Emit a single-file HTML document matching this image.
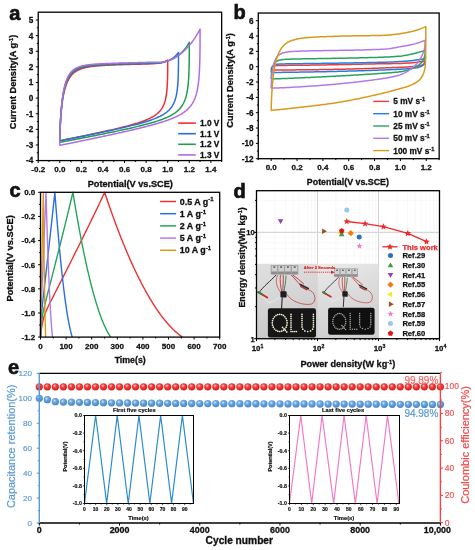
<!DOCTYPE html>
<html><head><meta charset="utf-8"><title>Figure</title>
<style>html,body{margin:0;padding:0;background:#fff;width:475px;height:550px;overflow:hidden}svg{display:block;font-family:"Liberation Sans",sans-serif;will-change:transform}</style>
</head><body>
<svg width="475" height="550" viewBox="0 0 475 550" font-family="Liberation Sans, sans-serif" font-weight="bold">
<rect width="475" height="550" fill="#fff"/>
<path d="M59.8 141.21 L59.8 140.86 L59.81 140.21 L59.82 139.39 L59.83 138.43 L59.85 137.35 L59.88 136.18 L59.91 134.93 L59.95 133.62 L59.99 132.25 L60.04 130.83 L60.1 129.37 L60.16 127.87 L60.23 126.35 L60.31 124.82 L60.39 123.26 L60.48 121.7 L60.58 120.14 L60.68 118.57 L60.79 117 L60.91 115.45 L61.04 113.9 L61.17 112.37 L61.31 110.85 L61.46 109.35 L61.62 107.87 L61.78 106.41 L61.95 104.97 L62.13 103.56 L62.32 102.18 L62.51 100.83 L62.72 99.5 L62.93 98.21 L63.15 96.94 L63.37 95.71 L63.61 94.5 L63.85 93.33 L64.11 92.19 L64.37 91.09 L64.63 90.01 L64.91 88.97 L65.2 87.96 L65.49 86.99 L65.79 86.04 L66.1 85.13 L66.42 84.24 L66.75 83.39 L67.09 82.57 L67.43 81.78 L67.79 81.01 L68.15 80.28 L68.52 79.57 L68.9 78.89 L69.29 78.24 L69.69 77.61 L70.1 77.01 L70.51 76.43 L70.94 75.88 L71.37 75.35 L71.82 74.84 L72.27 74.35 L72.73 73.89 L73.2 73.44 L73.68 73.02 L74.17 72.61 L74.67 72.23 L75.18 71.86 L75.7 71.5 L76.22 71.16 L76.76 70.84 L77.31 70.54 L77.86 70.25 L78.42 69.97 L79 69.7 L79.58 69.45 L80.17 69.21 L80.78 68.98 L81.39 68.76 L82.01 68.56 L82.64 68.36 L83.28 68.17 L83.93 67.99 L84.59 67.83 L85.26 67.66 L85.94 67.51 L86.63 67.37 L87.33 67.23 L88.04 67.09 L88.76 66.97 L89.49 66.85 L90.23 66.74 L90.98 66.63 L91.74 66.52 L92.51 66.42 L93.28 66.33 L94.07 66.24 L94.87 66.15 L95.68 66.07 L96.5 65.99 L97.33 65.92 L98.17 65.85 L99.02 65.78 L99.88 65.71 L100.74 65.65 L101.62 65.59 L102.51 65.53 L103.41 65.47 L104.32 65.42 L105.25 65.36 L106.18 65.31 L107.12 65.26 L108.07 65.22 L109.03 65.17 L110 65.12 L110.99 65.08 L111.98 65.04 L112.98 64.99 L114 64.95 L115.02 64.91 L116.05 64.87 L117.1 64.83 L118.16 64.8 L119.22 64.76 L120.3 64.72 L121.39 64.68 L122.48 64.65 L123.59 64.61 L124.71 64.58 L125.84 64.54 L126.98 64.51 L128.13 64.47 L129.3 64.44 L130.47 64.4 L131.65 64.37 L132.84 64.34 L134.05 64.3 L135.26 64.27 L136.49 64.23 L137.73 64.2 L138.98 64.17 L140.23 64.13 L141.5 64.1 L142.78 64.06 L144.07 64.03 L145.38 63.99 L146.69 63.95 L148.01 63.92 L149.35 63.88 L150.69 63.84 L152.05 63.77 L153.42 63.68 L154.8 63.57 L156.19 63.46 L157.59 63.34 L159 63.17 L160.42 62.92 L161.85 62.59 L163.3 62.16 L164.75 61.61 L166.22 60.91 L167.7 60.04 L167.7 60.03 L167.7 63.33 L167.69 65.97 L167.68 68.33 L167.67 70.51 L167.65 72.53 L167.62 74.43 L167.59 76.22 L167.55 77.91 L167.51 79.52 L167.46 81.04 L167.4 82.5 L167.34 83.89 L167.27 85.22 L167.19 86.48 L167.11 87.7 L167.02 88.87 L166.92 89.99 L166.82 91.06 L166.71 92.09 L166.59 93.09 L166.46 94.05 L166.33 94.97 L166.19 95.86 L166.04 96.71 L165.88 97.54 L165.72 98.34 L165.55 99.11 L165.37 99.85 L165.18 100.57 L164.99 101.27 L164.78 101.95 L164.57 102.6 L164.35 103.23 L164.13 103.85 L163.89 104.44 L163.65 105.02 L163.39 105.58 L163.13 106.12 L162.87 106.65 L162.59 107.17 L162.3 107.67 L162.01 108.15 L161.71 108.63 L161.4 109.09 L161.08 109.54 L160.75 109.98 L160.41 110.4 L160.07 110.82 L159.71 111.23 L159.35 111.62 L158.98 112.01 L158.6 112.39 L158.21 112.77 L157.81 113.13 L157.4 113.49 L156.99 113.83 L156.56 114.18 L156.13 114.51 L155.68 114.84 L155.23 115.16 L154.77 115.48 L154.3 115.79 L153.82 116.1 L153.33 116.4 L152.83 116.7 L152.32 116.99 L151.8 117.28 L151.28 117.56 L150.74 117.84 L150.19 118.12 L149.64 118.39 L149.08 118.66 L148.5 118.93 L147.92 119.19 L147.33 119.46 L146.72 119.71 L146.11 119.97 L145.49 120.22 L144.86 120.47 L144.22 120.72 L143.57 120.97 L142.91 121.22 L142.24 121.46 L141.56 121.7 L140.87 121.94 L140.17 122.18 L139.46 122.42 L138.74 122.66 L138.01 122.89 L137.27 123.13 L136.52 123.36 L135.76 123.59 L134.99 123.83 L134.22 124.06 L133.43 124.29 L132.63 124.52 L131.82 124.75 L131 124.98 L130.17 125.21 L129.33 125.44 L128.48 125.67 L127.62 125.9 L126.76 126.14 L125.88 126.37 L124.99 126.6 L124.09 126.83 L123.18 127.06 L122.25 127.29 L121.32 127.52 L120.38 127.75 L119.43 127.99 L118.47 128.22 L117.5 128.45 L116.51 128.69 L115.52 128.92 L114.52 129.16 L113.5 129.4 L112.48 129.64 L111.45 129.87 L110.4 130.11 L109.34 130.35 L108.28 130.6 L107.2 130.84 L106.11 131.08 L105.02 131.33 L103.91 131.57 L102.79 131.82 L101.66 132.07 L100.52 132.32 L99.37 132.57 L98.2 132.82 L97.03 133.07 L95.85 133.32 L94.66 133.58 L93.45 133.84 L92.24 134.1 L91.01 134.35 L89.77 134.62 L88.52 134.88 L87.27 135.14 L86 135.41 L84.72 135.67 L83.43 135.94 L82.12 136.21 L80.81 136.48 L79.49 136.76 L78.15 137.03 L76.81 137.31 L75.45 137.59 L74.08 137.87 L72.7 138.15 L71.31 138.43 L69.91 138.72 L68.5 139 L67.08 139.29 L65.65 139.58 L64.2 139.87 L62.75 140.17 L61.28 140.46 L59.8 140.76 L59.8 141.21" stroke="#ee2f2f" stroke-width="1.5" fill="none" stroke-linejoin="round" />
<path d="M59.8 141.21 L59.8 140.81 L59.81 140.07 L59.82 139.14 L59.84 138.05 L59.86 136.83 L59.89 135.51 L59.92 134.11 L59.96 132.63 L60.01 131.09 L60.07 129.5 L60.13 127.87 L60.2 126.21 L60.27 124.53 L60.36 122.83 L60.45 121.12 L60.55 119.41 L60.66 117.7 L60.77 115.99 L60.89 114.3 L61.02 112.62 L61.16 110.95 L61.31 109.31 L61.46 107.69 L61.63 106.09 L61.8 104.53 L61.98 102.99 L62.17 101.49 L62.37 100.02 L62.57 98.59 L62.79 97.19 L63.01 95.83 L63.24 94.5 L63.48 93.21 L63.73 91.96 L63.99 90.75 L64.26 89.58 L64.54 88.45 L64.82 87.35 L65.12 86.29 L65.42 85.27 L65.74 84.29 L66.06 83.34 L66.39 82.43 L66.73 81.56 L67.08 80.72 L67.45 79.91 L67.82 79.14 L68.2 78.4 L68.59 77.69 L68.99 77.01 L69.39 76.36 L69.81 75.74 L70.24 75.15 L70.68 74.58 L71.13 74.05 L71.59 73.53 L72.05 73.04 L72.53 72.58 L73.02 72.13 L73.52 71.71 L74.03 71.31 L74.54 70.93 L75.07 70.57 L75.61 70.23 L76.16 69.9 L76.72 69.59 L77.29 69.3 L77.87 69.02 L78.46 68.76 L79.06 68.51 L79.67 68.27 L80.29 68.05 L80.92 67.84 L81.56 67.64 L82.21 67.45 L82.87 67.27 L83.55 67.1 L84.23 66.94 L84.93 66.78 L85.63 66.64 L86.35 66.5 L87.07 66.37 L87.81 66.25 L88.56 66.14 L89.32 66.02 L90.09 65.92 L90.87 65.82 L91.66 65.73 L92.46 65.64 L93.27 65.55 L94.1 65.47 L94.93 65.39 L95.78 65.32 L96.63 65.25 L97.5 65.18 L98.38 65.12 L99.27 65.06 L100.17 65 L101.08 64.94 L102 64.88 L102.94 64.83 L103.88 64.78 L104.84 64.73 L105.81 64.68 L106.79 64.64 L107.78 64.59 L108.78 64.55 L109.79 64.51 L110.81 64.47 L111.85 64.43 L112.9 64.39 L113.95 64.35 L115.02 64.31 L116.1 64.27 L117.2 64.23 L118.3 64.2 L119.42 64.16 L120.54 64.13 L121.68 64.09 L122.83 64.06 L123.99 64.02 L125.16 63.99 L126.35 63.95 L127.55 63.92 L128.75 63.88 L129.97 63.85 L131.2 63.82 L132.45 63.78 L133.7 63.75 L134.97 63.71 L136.24 63.68 L137.53 63.65 L138.84 63.61 L140.15 63.58 L141.47 63.54 L142.81 63.51 L144.16 63.47 L145.52 63.44 L146.89 63.4 L148.28 63.36 L149.67 63.33 L151.08 63.29 L152.5 63.24 L153.93 63.19 L155.38 63.13 L156.83 63.07 L158.3 62.99 L159.78 62.86 L161.28 62.66 L162.78 62.38 L164.3 62.03 L165.82 61.58 L167.37 61.03 L168.92 60.38 L170.48 59.59 L172.06 58.65 L173.65 57.52 L175.25 56.18 L176.86 54.54 L178.49 52.49 L178.49 52.49 L178.49 56.25 L178.48 59.24 L178.47 61.92 L178.45 64.38 L178.43 66.66 L178.4 68.8 L178.37 70.82 L178.33 72.72 L178.28 74.52 L178.22 76.23 L178.16 77.86 L178.09 79.41 L178.02 80.89 L177.93 82.31 L177.84 83.66 L177.74 84.96 L177.63 86.2 L177.52 87.39 L177.4 88.53 L177.27 89.63 L177.13 90.69 L176.98 91.7 L176.83 92.68 L176.66 93.62 L176.49 94.53 L176.31 95.4 L176.12 96.25 L175.92 97.06 L175.72 97.85 L175.5 98.61 L175.28 99.34 L175.05 100.05 L174.81 100.74 L174.56 101.41 L174.3 102.05 L174.03 102.68 L173.75 103.29 L173.47 103.87 L173.17 104.44 L172.87 105 L172.55 105.54 L172.23 106.06 L171.9 106.57 L171.56 107.06 L171.21 107.55 L170.84 108.02 L170.47 108.47 L170.09 108.92 L169.7 109.35 L169.3 109.78 L168.9 110.19 L168.48 110.6 L168.05 110.99 L167.61 111.38 L167.16 111.76 L166.7 112.13 L166.24 112.49 L165.76 112.85 L165.27 113.2 L164.77 113.54 L164.26 113.88 L163.75 114.21 L163.22 114.53 L162.68 114.85 L162.13 115.17 L161.57 115.48 L161 115.78 L160.42 116.08 L159.83 116.38 L159.23 116.67 L158.62 116.96 L158 117.24 L157.37 117.52 L156.73 117.8 L156.08 118.08 L155.42 118.35 L154.74 118.62 L154.06 118.89 L153.36 119.15 L152.66 119.41 L151.94 119.68 L151.22 119.93 L150.48 120.19 L149.73 120.45 L148.97 120.7 L148.2 120.95 L147.42 121.21 L146.63 121.46 L145.83 121.71 L145.02 121.95 L144.19 122.2 L143.36 122.45 L142.51 122.69 L141.66 122.94 L140.79 123.18 L139.91 123.43 L139.02 123.67 L138.12 123.92 L137.21 124.16 L136.29 124.41 L135.35 124.65 L134.41 124.89 L133.45 125.14 L132.48 125.38 L131.5 125.63 L130.51 125.87 L129.51 126.12 L128.5 126.37 L127.48 126.61 L126.44 126.86 L125.39 127.11 L124.34 127.36 L123.27 127.61 L122.19 127.86 L121.09 128.11 L119.99 128.36 L118.87 128.61 L117.75 128.86 L116.61 129.12 L115.46 129.37 L114.3 129.63 L113.13 129.89 L111.94 130.15 L110.74 130.41 L109.54 130.67 L108.32 130.93 L107.09 131.2 L105.84 131.46 L104.59 131.73 L103.32 132 L102.05 132.27 L100.76 132.54 L99.45 132.81 L98.14 133.08 L96.82 133.36 L95.48 133.64 L94.13 133.91 L92.77 134.19 L91.4 134.48 L90.01 134.76 L88.62 135.04 L87.21 135.33 L85.79 135.62 L84.36 135.91 L82.91 136.2 L81.46 136.49 L79.99 136.79 L78.51 137.09 L77.01 137.39 L75.51 137.69 L73.99 137.99 L72.47 138.29 L70.92 138.6 L69.37 138.91 L67.81 139.22 L66.23 139.53 L64.64 139.85 L63.04 140.16 L61.43 140.48 L59.8 140.8 L59.8 141.21" stroke="#2a6ee0" stroke-width="1.5" fill="none" stroke-linejoin="round" />
<path d="M59.8 142.77 L59.8 142.31 L59.81 141.48 L59.82 140.43 L59.84 139.19 L59.86 137.82 L59.89 136.33 L59.93 134.75 L59.98 133.09 L60.03 131.37 L60.09 129.59 L60.16 127.78 L60.23 125.94 L60.32 124.07 L60.41 122.2 L60.51 120.32 L60.62 118.44 L60.73 116.57 L60.86 114.71 L60.99 112.87 L61.13 111.05 L61.29 109.25 L61.45 107.49 L61.62 105.76 L61.79 104.06 L61.98 102.4 L62.18 100.78 L62.38 99.19 L62.6 97.66 L62.82 96.16 L63.06 94.71 L63.3 93.3 L63.55 91.94 L63.82 90.62 L64.09 89.34 L64.37 88.12 L64.66 86.93 L64.97 85.79 L65.28 84.7 L65.6 83.65 L65.93 82.64 L66.28 81.67 L66.63 80.74 L66.99 79.86 L67.36 79.01 L67.75 78.2 L68.14 77.43 L68.54 76.69 L68.96 75.99 L69.38 75.32 L69.82 74.69 L70.27 74.08 L70.72 73.51 L71.19 72.96 L71.67 72.44 L72.16 71.95 L72.66 71.49 L73.17 71.05 L73.69 70.63 L74.22 70.24 L74.76 69.86 L75.32 69.51 L75.88 69.18 L76.46 68.86 L77.05 68.56 L77.65 68.28 L78.26 68.02 L78.88 67.77 L79.51 67.54 L80.15 67.31 L80.81 67.1 L81.47 66.91 L82.15 66.72 L82.84 66.55 L83.54 66.38 L84.25 66.23 L84.97 66.08 L85.71 65.94 L86.45 65.81 L87.21 65.69 L87.98 65.57 L88.76 65.46 L89.55 65.36 L90.36 65.26 L91.17 65.17 L92 65.08 L92.84 65 L93.69 64.92 L94.55 64.84 L95.43 64.77 L96.32 64.7 L97.21 64.64 L98.12 64.58 L99.05 64.52 L99.98 64.46 L100.93 64.41 L101.89 64.35 L102.86 64.3 L103.84 64.25 L104.83 64.21 L105.84 64.16 L106.86 64.12 L107.89 64.07 L108.93 64.03 L109.99 63.99 L111.06 63.95 L112.14 63.91 L113.23 63.87 L114.33 63.83 L115.45 63.8 L116.58 63.76 L117.72 63.72 L118.88 63.69 L120.04 63.65 L121.22 63.62 L122.41 63.58 L123.62 63.55 L124.84 63.51 L126.06 63.48 L127.31 63.44 L128.56 63.41 L129.83 63.37 L131.11 63.34 L132.4 63.3 L133.7 63.27 L135.02 63.24 L136.35 63.2 L137.69 63.17 L139.05 63.13 L140.42 63.1 L141.8 63.06 L143.19 63.02 L144.6 62.99 L146.02 62.95 L147.45 62.92 L148.9 62.88 L150.36 62.84 L151.83 62.81 L153.31 62.79 L154.81 62.77 L156.32 62.74 L157.84 62.71 L159.38 62.63 L160.93 62.49 L162.49 62.27 L164.07 61.98 L165.66 61.61 L167.26 61.15 L168.87 60.59 L170.5 59.94 L172.14 59.19 L173.8 58.32 L175.46 57.32 L177.14 56.19 L178.84 54.92 L180.54 53.48 L182.27 51.85 L184 49.99 L185.75 47.85 L187.51 45.32 L189.28 42.29 L189.28 42.28 L189.28 46.78 L189.27 50.36 L189.26 53.56 L189.24 56.49 L189.22 59.21 L189.19 61.75 L189.15 64.14 L189.1 66.4 L189.05 68.53 L188.99 70.55 L188.92 72.47 L188.85 74.29 L188.76 76.03 L188.67 77.69 L188.57 79.28 L188.46 80.79 L188.35 82.24 L188.22 83.63 L188.09 84.96 L187.95 86.24 L187.79 87.47 L187.63 88.65 L187.46 89.78 L187.29 90.87 L187.1 91.92 L186.9 92.92 L186.7 93.9 L186.48 94.83 L186.26 95.74 L186.02 96.61 L185.78 97.45 L185.53 98.26 L185.26 99.05 L184.99 99.81 L184.71 100.54 L184.42 101.25 L184.11 101.94 L183.8 102.6 L183.48 103.25 L183.15 103.87 L182.8 104.48 L182.45 105.07 L182.09 105.64 L181.72 106.2 L181.33 106.74 L180.94 107.26 L180.54 107.78 L180.12 108.27 L179.7 108.76 L179.26 109.23 L178.81 109.69 L178.36 110.14 L177.89 110.58 L177.41 111.01 L176.92 111.43 L176.42 111.83 L175.91 112.23 L175.39 112.63 L174.86 113.01 L174.32 113.39 L173.76 113.75 L173.2 114.12 L172.62 114.47 L172.03 114.82 L171.43 115.16 L170.82 115.5 L170.2 115.83 L169.57 116.16 L168.93 116.48 L168.27 116.79 L167.61 117.11 L166.93 117.41 L166.24 117.72 L165.54 118.02 L164.83 118.31 L164.11 118.61 L163.37 118.9 L162.63 119.19 L161.87 119.47 L161.1 119.75 L160.32 120.03 L159.53 120.31 L158.72 120.58 L157.91 120.86 L157.08 121.13 L156.24 121.4 L155.39 121.67 L154.53 121.93 L153.65 122.2 L152.76 122.46 L151.87 122.73 L150.96 122.99 L150.03 123.25 L149.1 123.51 L148.15 123.77 L147.19 124.03 L146.22 124.29 L145.24 124.55 L144.25 124.81 L143.24 125.07 L142.22 125.33 L141.19 125.59 L140.15 125.84 L139.09 126.1 L138.02 126.36 L136.94 126.62 L135.85 126.88 L134.75 127.14 L133.63 127.4 L132.5 127.66 L131.36 127.93 L130.2 128.19 L129.04 128.45 L127.86 128.72 L126.67 128.98 L125.46 129.25 L124.24 129.51 L123.02 129.78 L121.77 130.05 L120.52 130.32 L119.25 130.59 L117.97 130.86 L116.68 131.14 L115.38 131.41 L114.06 131.69 L112.73 131.96 L111.39 132.24 L110.03 132.52 L108.66 132.8 L107.28 133.09 L105.89 133.37 L104.48 133.66 L103.06 133.94 L101.63 134.23 L100.18 134.52 L98.72 134.82 L97.25 135.11 L95.77 135.4 L94.27 135.7 L92.76 136 L91.24 136.3 L89.7 136.6 L88.15 136.91 L86.59 137.21 L85.01 137.52 L83.42 137.83 L81.82 138.14 L80.21 138.46 L78.58 138.77 L76.94 139.09 L75.28 139.41 L73.62 139.73 L71.94 140.05 L70.24 140.38 L68.54 140.71 L66.81 141.04 L65.08 141.37 L63.33 141.7 L61.57 142.04 L59.8 142.38 L59.8 142.77" stroke="#1f9e4e" stroke-width="1.5" fill="none" stroke-linejoin="round" />
<path d="M59.8 145.74 L59.8 145.21 L59.81 144.26 L59.82 143.04 L59.84 141.62 L59.87 140.05 L59.9 138.34 L59.94 136.54 L59.99 134.65 L60.05 132.69 L60.11 130.68 L60.19 128.63 L60.27 126.56 L60.36 124.47 L60.46 122.37 L60.57 120.27 L60.69 118.18 L60.81 116.11 L60.95 114.06 L61.09 112.04 L61.25 110.04 L61.41 108.09 L61.58 106.17 L61.77 104.3 L61.96 102.47 L62.16 100.69 L62.38 98.96 L62.6 97.28 L62.83 95.66 L63.07 94.08 L63.33 92.56 L63.59 91.09 L63.87 89.68 L64.15 88.32 L64.45 87.02 L64.75 85.76 L65.07 84.56 L65.4 83.41 L65.74 82.31 L66.08 81.26 L66.44 80.26 L66.81 79.3 L67.2 78.39 L67.59 77.53 L67.99 76.7 L68.41 75.92 L68.84 75.18 L69.27 74.48 L69.72 73.81 L70.18 73.18 L70.66 72.58 L71.14 72.02 L71.63 71.49 L72.14 70.99 L72.66 70.51 L73.19 70.07 L73.73 69.65 L74.28 69.25 L74.85 68.88 L75.42 68.53 L76.01 68.2 L76.61 67.89 L77.22 67.6 L77.85 67.33 L78.49 67.07 L79.13 66.83 L79.79 66.61 L80.47 66.39 L81.15 66.2 L81.85 66.01 L82.56 65.84 L83.28 65.67 L84.01 65.52 L84.76 65.37 L85.52 65.24 L86.29 65.11 L87.07 64.99 L87.87 64.88 L88.67 64.78 L89.49 64.68 L90.33 64.58 L91.17 64.49 L92.03 64.41 L92.9 64.33 L93.79 64.26 L94.68 64.19 L95.59 64.12 L96.51 64.06 L97.45 63.99 L98.4 63.94 L99.36 63.88 L100.33 63.83 L101.32 63.78 L102.32 63.73 L103.33 63.68 L104.35 63.63 L105.39 63.59 L106.44 63.54 L107.51 63.5 L108.59 63.46 L109.68 63.42 L110.78 63.38 L111.9 63.34 L113.03 63.31 L114.17 63.27 L115.33 63.23 L116.5 63.2 L117.68 63.16 L118.88 63.12 L120.09 63.09 L121.31 63.05 L122.55 63.02 L123.8 62.98 L125.06 62.95 L126.34 62.91 L127.63 62.88 L128.94 62.84 L130.25 62.81 L131.59 62.77 L132.93 62.74 L134.29 62.7 L135.66 62.67 L137.05 62.63 L138.45 62.59 L139.86 62.56 L141.29 62.52 L142.73 62.49 L144.19 62.45 L145.65 62.41 L147.14 62.37 L148.63 62.34 L150.14 62.3 L151.67 62.27 L153.21 62.28 L154.76 62.3 L156.32 62.32 L157.9 62.33 L159.5 62.28 L161.11 62.17 L162.73 61.98 L164.36 61.71 L166.01 61.35 L167.68 60.9 L169.36 60.35 L171.05 59.7 L172.76 58.94 L174.48 58.02 L176.21 56.98 L177.96 55.82 L179.73 54.53 L181.5 53.11 L183.3 51.56 L185.1 49.86 L186.92 48.01 L188.76 46 L190.61 43.81 L192.47 41.43 L194.35 38.82 L196.24 35.95 L198.15 32.74 L200.07 29.1 L200.07 29.1 L200.07 34.49 L200.06 38.77 L200.05 42.58 L200.03 46.08 L200 49.31 L199.97 52.33 L199.93 55.17 L199.88 57.84 L199.82 60.36 L199.76 62.74 L199.68 65.01 L199.6 67.16 L199.51 69.21 L199.41 71.16 L199.3 73.02 L199.18 74.8 L199.06 76.5 L198.92 78.12 L198.78 79.68 L198.62 81.17 L198.46 82.6 L198.29 83.97 L198.1 85.29 L197.91 86.55 L197.71 87.77 L197.49 88.93 L197.27 90.06 L197.04 91.14 L196.8 92.19 L196.54 93.19 L196.28 94.16 L196 95.1 L195.72 96 L195.42 96.87 L195.12 97.71 L194.8 98.53 L194.47 99.31 L194.13 100.08 L193.79 100.81 L193.43 101.53 L193.06 102.22 L192.67 102.89 L192.28 103.55 L191.88 104.18 L191.46 104.79 L191.03 105.39 L190.6 105.97 L190.15 106.54 L189.69 107.09 L189.21 107.62 L188.73 108.14 L188.24 108.65 L187.73 109.15 L187.21 109.63 L186.68 110.1 L186.14 110.57 L185.59 111.02 L185.02 111.46 L184.45 111.89 L183.86 112.32 L183.26 112.73 L182.65 113.14 L182.02 113.54 L181.38 113.93 L180.74 114.32 L180.08 114.7 L179.4 115.07 L178.72 115.44 L178.02 115.8 L177.31 116.15 L176.59 116.5 L175.86 116.85 L175.11 117.19 L174.35 117.53 L173.58 117.87 L172.8 118.2 L172 118.52 L171.2 118.85 L170.38 119.17 L169.54 119.48 L168.7 119.8 L167.84 120.11 L166.97 120.42 L166.08 120.73 L165.19 121.04 L164.28 121.34 L163.36 121.64 L162.42 121.94 L161.47 122.24 L160.51 122.54 L159.54 122.84 L158.55 123.14 L157.55 123.43 L156.54 123.73 L155.52 124.02 L154.48 124.32 L153.43 124.61 L152.36 124.91 L151.28 125.2 L150.19 125.49 L149.09 125.79 L147.97 126.08 L146.84 126.37 L145.7 126.67 L144.54 126.96 L143.37 127.26 L142.19 127.55 L140.99 127.85 L139.78 128.15 L138.56 128.45 L137.32 128.74 L136.07 129.04 L134.81 129.34 L133.53 129.65 L132.24 129.95 L130.93 130.25 L129.62 130.56 L128.28 130.86 L126.94 131.17 L125.58 131.48 L124.21 131.79 L122.82 132.1 L121.42 132.41 L120.01 132.73 L118.58 133.04 L117.14 133.36 L115.68 133.68 L114.22 134 L112.73 134.33 L111.24 134.65 L109.73 134.98 L108.2 135.3 L106.66 135.63 L105.11 135.97 L103.55 136.3 L101.97 136.64 L100.37 136.97 L98.76 137.31 L97.14 137.66 L95.51 138 L93.86 138.35 L92.19 138.69 L90.51 139.05 L88.82 139.4 L87.11 139.75 L85.39 140.11 L83.66 140.47 L81.91 140.83 L80.14 141.19 L78.37 141.56 L76.57 141.93 L74.77 142.3 L72.95 142.67 L71.11 143.05 L69.26 143.43 L67.4 143.81 L65.52 144.19 L63.63 144.57 L61.72 144.96 L59.8 145.35 L59.8 145.74" stroke="#b06be6" stroke-width="1.5" fill="none" stroke-linejoin="round" />
<rect x="38.22" y="12.19" width="183.43" height="148.39" fill="none" stroke="#000" stroke-width="1.3" />
<line x1="38.22" y1="160.58" x2="35.82" y2="160.58" stroke="#000" stroke-width="1" />
<line x1="38.22" y1="144.96" x2="35.82" y2="144.96" stroke="#000" stroke-width="1" />
<line x1="38.22" y1="129.34" x2="35.82" y2="129.34" stroke="#000" stroke-width="1" />
<line x1="38.22" y1="113.72" x2="35.82" y2="113.72" stroke="#000" stroke-width="1" />
<line x1="38.22" y1="98.1" x2="35.82" y2="98.1" stroke="#000" stroke-width="1" />
<line x1="38.22" y1="82.48" x2="35.82" y2="82.48" stroke="#000" stroke-width="1" />
<line x1="38.22" y1="66.86" x2="35.82" y2="66.86" stroke="#000" stroke-width="1" />
<line x1="38.22" y1="51.24" x2="35.82" y2="51.24" stroke="#000" stroke-width="1" />
<line x1="38.22" y1="35.62" x2="35.82" y2="35.62" stroke="#000" stroke-width="1" />
<line x1="38.22" y1="20" x2="35.82" y2="20" stroke="#000" stroke-width="1" />
<line x1="38.22" y1="152.77" x2="36.82" y2="152.77" stroke="#000" stroke-width="1" />
<line x1="38.22" y1="137.15" x2="36.82" y2="137.15" stroke="#000" stroke-width="1" />
<line x1="38.22" y1="121.53" x2="36.82" y2="121.53" stroke="#000" stroke-width="1" />
<line x1="38.22" y1="105.91" x2="36.82" y2="105.91" stroke="#000" stroke-width="1" />
<line x1="38.22" y1="90.29" x2="36.82" y2="90.29" stroke="#000" stroke-width="1" />
<line x1="38.22" y1="74.67" x2="36.82" y2="74.67" stroke="#000" stroke-width="1" />
<line x1="38.22" y1="59.05" x2="36.82" y2="59.05" stroke="#000" stroke-width="1" />
<line x1="38.22" y1="43.43" x2="36.82" y2="43.43" stroke="#000" stroke-width="1" />
<line x1="38.22" y1="27.81" x2="36.82" y2="27.81" stroke="#000" stroke-width="1" />
<line x1="38.22" y1="160.58" x2="38.22" y2="162.98" stroke="#000" stroke-width="1" />
<line x1="59.8" y1="160.58" x2="59.8" y2="162.98" stroke="#000" stroke-width="1" />
<line x1="81.38" y1="160.58" x2="81.38" y2="162.98" stroke="#000" stroke-width="1" />
<line x1="102.96" y1="160.58" x2="102.96" y2="162.98" stroke="#000" stroke-width="1" />
<line x1="124.54" y1="160.58" x2="124.54" y2="162.98" stroke="#000" stroke-width="1" />
<line x1="146.12" y1="160.58" x2="146.12" y2="162.98" stroke="#000" stroke-width="1" />
<line x1="167.7" y1="160.58" x2="167.7" y2="162.98" stroke="#000" stroke-width="1" />
<line x1="189.28" y1="160.58" x2="189.28" y2="162.98" stroke="#000" stroke-width="1" />
<line x1="210.86" y1="160.58" x2="210.86" y2="162.98" stroke="#000" stroke-width="1" />
<line x1="49.01" y1="160.58" x2="49.01" y2="161.98" stroke="#000" stroke-width="1" />
<line x1="70.59" y1="160.58" x2="70.59" y2="161.98" stroke="#000" stroke-width="1" />
<line x1="92.17" y1="160.58" x2="92.17" y2="161.98" stroke="#000" stroke-width="1" />
<line x1="113.75" y1="160.58" x2="113.75" y2="161.98" stroke="#000" stroke-width="1" />
<line x1="135.33" y1="160.58" x2="135.33" y2="161.98" stroke="#000" stroke-width="1" />
<line x1="156.91" y1="160.58" x2="156.91" y2="161.98" stroke="#000" stroke-width="1" />
<line x1="178.49" y1="160.58" x2="178.49" y2="161.98" stroke="#000" stroke-width="1" />
<line x1="200.07" y1="160.58" x2="200.07" y2="161.98" stroke="#000" stroke-width="1" />
<line x1="221.65" y1="160.58" x2="221.65" y2="161.98" stroke="#000" stroke-width="1" />
<text x="33.2" y="163.48" font-size="8.2" text-anchor="end" fill="#111" stroke="#111" stroke-width="0.27" >-4</text>
<text x="33.2" y="147.86" font-size="8.2" text-anchor="end" fill="#111" stroke="#111" stroke-width="0.27" >-3</text>
<text x="33.2" y="132.24" font-size="8.2" text-anchor="end" fill="#111" stroke="#111" stroke-width="0.27" >-2</text>
<text x="33.2" y="116.62" font-size="8.2" text-anchor="end" fill="#111" stroke="#111" stroke-width="0.27" >-1</text>
<text x="33.2" y="101" font-size="8.2" text-anchor="end" fill="#111" stroke="#111" stroke-width="0.27" >0</text>
<text x="33.2" y="85.38" font-size="8.2" text-anchor="end" fill="#111" stroke="#111" stroke-width="0.27" >1</text>
<text x="33.2" y="69.76" font-size="8.2" text-anchor="end" fill="#111" stroke="#111" stroke-width="0.27" >2</text>
<text x="33.2" y="54.14" font-size="8.2" text-anchor="end" fill="#111" stroke="#111" stroke-width="0.27" >3</text>
<text x="33.2" y="38.52" font-size="8.2" text-anchor="end" fill="#111" stroke="#111" stroke-width="0.27" >4</text>
<text x="33.2" y="22.9" font-size="8.2" text-anchor="end" fill="#111" stroke="#111" stroke-width="0.27" >5</text>
<text x="38.22" y="172.4" font-size="8" text-anchor="middle" fill="#111" stroke="#111" stroke-width="0.27" >-0.2</text>
<text x="59.8" y="172.4" font-size="8" text-anchor="middle" fill="#111" stroke="#111" stroke-width="0.27" >0.0</text>
<text x="81.38" y="172.4" font-size="8" text-anchor="middle" fill="#111" stroke="#111" stroke-width="0.27" >0.2</text>
<text x="102.96" y="172.4" font-size="8" text-anchor="middle" fill="#111" stroke="#111" stroke-width="0.27" >0.4</text>
<text x="124.54" y="172.4" font-size="8" text-anchor="middle" fill="#111" stroke="#111" stroke-width="0.27" >0.6</text>
<text x="146.12" y="172.4" font-size="8" text-anchor="middle" fill="#111" stroke="#111" stroke-width="0.27" >0.8</text>
<text x="167.7" y="172.4" font-size="8" text-anchor="middle" fill="#111" stroke="#111" stroke-width="0.27" >1.0</text>
<text x="189.28" y="172.4" font-size="8" text-anchor="middle" fill="#111" stroke="#111" stroke-width="0.27" >1.2</text>
<text x="210.86" y="172.4" font-size="8" text-anchor="middle" fill="#111" stroke="#111" stroke-width="0.27" >1.4</text>
<text x="130.3" y="187.2" font-size="9.2" text-anchor="middle" fill="#111" stroke="#111" stroke-width="0.31" >Potential(V vs.SCE)</text>
<text x="16.4" y="82" font-size="9.2" text-anchor="middle" fill="#111" stroke="#111" stroke-width="0.31" transform="rotate(-90 16.4 82)" >Current Density(A g<tspan dy="-3" font-size="5.6">-1</tspan><tspan dy="3">)</tspan></text>
<text x="9.3" y="19.5" font-size="20" text-anchor="start" fill="#111" stroke="#111" stroke-width="0.67" >a</text>
<line x1="178.2" y1="123.1" x2="195.8" y2="123.1" stroke="#ee2f2f" stroke-width="1.6" />
<text x="200" y="126" font-size="8.3" text-anchor="start" fill="#111" stroke="#111" stroke-width="0.28" >1.0 V</text>
<line x1="178.2" y1="133.7" x2="195.8" y2="133.7" stroke="#2a6ee0" stroke-width="1.6" />
<text x="200" y="136.6" font-size="8.3" text-anchor="start" fill="#111" stroke="#111" stroke-width="0.28" >1.1 V</text>
<line x1="178.2" y1="144.3" x2="195.8" y2="144.3" stroke="#1f9e4e" stroke-width="1.6" />
<text x="200" y="147.2" font-size="8.3" text-anchor="start" fill="#111" stroke="#111" stroke-width="0.28" >1.2 V</text>
<line x1="178.2" y1="154.9" x2="195.8" y2="154.9" stroke="#b06be6" stroke-width="1.6" />
<text x="200" y="157.8" font-size="8.3" text-anchor="start" fill="#111" stroke="#111" stroke-width="0.28" >1.3 V</text>
<path d="M271.2 70 L271.2 69.91 L271.21 69.75 L271.23 69.54 L271.26 69.3 L271.3 69.04 L271.35 68.78 L271.41 68.51 L271.48 68.25 L271.57 67.99 L271.66 67.74 L271.77 67.51 L271.89 67.29 L272.02 67.08 L272.17 66.89 L272.33 66.72 L272.5 66.56 L272.68 66.42 L272.88 66.3 L273.09 66.18 L273.32 66.08 L273.56 65.99 L273.81 65.92 L274.08 65.85 L274.36 65.79 L274.66 65.74 L274.97 65.69 L275.3 65.65 L275.64 65.62 L276 65.59 L276.37 65.57 L276.76 65.55 L277.16 65.53 L277.58 65.51 L278.01 65.5 L278.46 65.49 L278.92 65.48 L279.4 65.47 L279.9 65.46 L280.41 65.45 L280.93 65.44 L281.48 65.44 L282.04 65.43 L282.61 65.42 L283.21 65.42 L283.81 65.41 L284.44 65.4 L285.08 65.4 L285.74 65.39 L286.41 65.39 L287.1 65.38 L287.81 65.37 L288.54 65.37 L289.28 65.36 L290.04 65.35 L290.81 65.34 L291.61 65.34 L292.42 65.33 L293.25 65.32 L294.09 65.31 L294.95 65.3 L295.83 65.29 L296.73 65.28 L297.64 65.27 L298.58 65.26 L299.53 65.25 L300.49 65.24 L301.48 65.23 L302.48 65.22 L303.5 65.21 L304.54 65.2 L305.6 65.18 L306.67 65.17 L307.77 65.16 L308.88 65.14 L310.01 65.13 L311.15 65.12 L312.32 65.1 L313.5 65.09 L314.71 65.07 L315.93 65.05 L317.17 65.04 L318.42 65.02 L319.7 65 L321 64.98 L322.31 64.96 L323.64 64.93 L324.99 64.91 L326.36 64.89 L327.75 64.86 L329.16 64.83 L330.58 64.81 L332.03 64.78 L333.49 64.75 L334.98 64.72 L336.48 64.69 L338 64.66 L339.54 64.62 L341.1 64.59 L342.68 64.56 L344.28 64.52 L345.89 64.49 L347.53 64.45 L349.19 64.41 L350.86 64.38 L352.56 64.34 L354.27 64.3 L356 64.26 L357.76 64.23 L359.53 64.19 L361.32 64.15 L363.14 64.11 L364.97 64.07 L366.82 64.03 L368.69 63.99 L370.58 63.96 L372.49 63.92 L374.43 63.88 L376.38 63.84 L378.35 63.81 L380.34 63.78 L382.35 63.74 L384.38 63.71 L386.43 63.68 L388.5 63.65 L390.59 63.63 L392.7 63.61 L394.84 63.59 L396.99 63.56 L399.16 63.52 L401.35 63.46 L403.57 63.37 L405.8 63.25 L408.05 63.09 L410.33 62.9 L412.62 62.68 L414.94 62.43 L417.27 62.16 L419.63 61.86 L422 61.54 L424.4 61.2 L424.4 61.2 L424.77 62.19 L424.28 63.31 L423.57 64.13 L422.77 64.61 L421.81 65.03 L420.72 65.39 L419.55 65.69 L418.34 65.94 L417.14 66.14 L415.99 66.29 L414.89 66.41 L413.78 66.52 L412.67 66.61 L411.56 66.7 L410.44 66.78 L409.31 66.86 L408.19 66.92 L407.06 66.99 L405.93 67.04 L404.81 67.1 L403.68 67.15 L402.55 67.19 L401.42 67.24 L400.3 67.29 L399.18 67.33 L398.06 67.38 L396.94 67.43 L395.82 67.47 L394.69 67.52 L393.57 67.56 L392.45 67.61 L391.33 67.65 L390.21 67.7 L389.09 67.74 L387.96 67.78 L386.84 67.83 L385.72 67.87 L384.6 67.91 L383.48 67.95 L382.35 68 L381.23 68.04 L380.11 68.08 L378.99 68.12 L377.86 68.16 L376.74 68.2 L375.62 68.24 L374.5 68.27 L373.38 68.31 L372.25 68.35 L371.13 68.39 L370.01 68.42 L368.89 68.46 L367.76 68.5 L366.64 68.53 L365.52 68.57 L364.4 68.6 L363.27 68.64 L362.15 68.67 L361.03 68.7 L359.91 68.74 L358.78 68.77 L357.66 68.8 L356.54 68.83 L355.41 68.87 L354.29 68.9 L353.17 68.93 L352.05 68.96 L350.92 68.99 L349.8 69.01 L348.68 69.04 L347.55 69.07 L346.43 69.1 L345.31 69.13 L344.19 69.15 L343.06 69.18 L341.94 69.2 L340.82 69.23 L339.7 69.25 L338.57 69.28 L337.45 69.3 L336.33 69.33 L335.2 69.35 L334.08 69.37 L332.96 69.39 L331.83 69.41 L330.71 69.43 L329.59 69.46 L328.47 69.47 L327.34 69.49 L326.22 69.51 L325.1 69.53 L323.97 69.55 L322.85 69.57 L321.73 69.58 L320.61 69.6 L319.48 69.61 L318.36 69.63 L317.24 69.64 L316.12 69.66 L314.99 69.67 L313.87 69.68 L312.75 69.7 L311.62 69.71 L310.5 69.72 L309.38 69.73 L308.26 69.75 L307.13 69.76 L306.01 69.77 L304.89 69.78 L303.76 69.79 L302.64 69.8 L301.52 69.81 L300.4 69.83 L299.27 69.84 L298.15 69.85 L297.03 69.86 L295.9 69.87 L294.78 69.88 L293.66 69.89 L292.54 69.9 L291.41 69.9 L290.29 69.91 L289.17 69.92 L288.04 69.93 L286.92 69.94 L285.8 69.94 L284.68 69.95 L283.55 69.96 L282.43 69.96 L281.31 69.97 L280.18 69.98 L279.06 69.98 L277.94 69.98 L276.82 69.99 L275.69 69.99 L274.57 69.99 L273.45 70 L272.32 70 L271.2 70" stroke="#ee3b3b" stroke-width="1.5" fill="none" stroke-linejoin="round" />
<path d="M271.2 72.5 L271.2 72.37 L271.21 72.13 L271.23 71.83 L271.26 71.48 L271.3 71.1 L271.35 70.69 L271.41 70.28 L271.48 69.86 L271.57 69.44 L271.66 69.02 L271.77 68.62 L271.89 68.24 L272.02 67.86 L272.17 67.51 L272.33 67.18 L272.5 66.87 L272.69 66.58 L272.89 66.31 L273.1 66.06 L273.33 65.83 L273.57 65.62 L273.82 65.43 L274.09 65.25 L274.38 65.09 L274.67 64.95 L274.99 64.83 L275.32 64.71 L275.66 64.61 L276.02 64.52 L276.39 64.44 L276.78 64.37 L277.18 64.3 L277.6 64.25 L278.03 64.2 L278.48 64.15 L278.95 64.11 L279.43 64.08 L279.93 64.05 L280.44 64.02 L280.97 64 L281.52 63.98 L282.08 63.96 L282.66 63.94 L283.25 63.92 L283.86 63.91 L284.49 63.89 L285.13 63.88 L285.8 63.87 L286.47 63.86 L287.17 63.84 L287.88 63.83 L288.61 63.82 L289.35 63.81 L290.11 63.8 L290.89 63.79 L291.69 63.78 L292.5 63.77 L293.33 63.76 L294.18 63.75 L295.05 63.73 L295.93 63.72 L296.83 63.71 L297.75 63.7 L298.68 63.69 L299.64 63.68 L300.61 63.66 L301.6 63.65 L302.6 63.64 L303.63 63.62 L304.67 63.61 L305.73 63.59 L306.81 63.58 L307.91 63.56 L309.03 63.55 L310.16 63.53 L311.31 63.52 L312.48 63.5 L313.67 63.48 L314.88 63.47 L316.1 63.45 L317.35 63.43 L318.61 63.41 L319.89 63.4 L321.19 63.38 L322.51 63.36 L323.85 63.34 L325.2 63.32 L326.58 63.3 L327.97 63.28 L329.38 63.26 L330.82 63.24 L332.27 63.22 L333.74 63.2 L335.23 63.18 L336.73 63.15 L338.26 63.13 L339.81 63.11 L341.37 63.08 L342.96 63.06 L344.56 63.03 L346.19 63.01 L347.83 62.98 L349.49 62.95 L351.17 62.93 L352.88 62.9 L354.6 62.87 L356.34 62.83 L358.1 62.8 L359.88 62.77 L361.68 62.73 L363.5 62.7 L365.34 62.66 L367.19 62.62 L369.07 62.58 L370.97 62.54 L372.89 62.5 L374.83 62.46 L376.79 62.41 L378.77 62.36 L380.77 62.31 L382.78 62.26 L384.82 62.2 L386.88 62.15 L388.96 62.08 L391.06 62.01 L393.18 61.93 L395.32 61.84 L397.48 61.74 L399.66 61.62 L401.86 61.48 L404.08 61.32 L406.33 61.13 L408.59 60.91 L410.87 60.67 L413.17 60.4 L415.5 60.11 L417.84 59.79 L420.21 59.45 L422.59 59.08 L425 58.7 L425 58.7 L425.14 59.92 L425.19 61.07 L425.2 62.15 L424.92 63.2 L424.2 64.23 L423.31 65.08 L422.46 65.69 L421.51 66.21 L420.45 66.68 L419.32 67.09 L418.15 67.43 L416.98 67.71 L415.85 67.91 L414.73 68.06 L413.61 68.2 L412.48 68.33 L411.34 68.45 L410.2 68.56 L409.05 68.65 L407.9 68.74 L406.74 68.82 L405.58 68.9 L404.43 68.97 L403.27 69.03 L402.12 69.09 L400.96 69.15 L399.82 69.21 L398.67 69.27 L397.52 69.32 L396.38 69.38 L395.23 69.43 L394.08 69.49 L392.94 69.54 L391.79 69.59 L390.64 69.64 L389.5 69.69 L388.35 69.74 L387.2 69.79 L386.06 69.84 L384.91 69.89 L383.76 69.94 L382.61 69.98 L381.47 70.03 L380.32 70.07 L379.17 70.12 L378.02 70.16 L376.87 70.21 L375.73 70.25 L374.58 70.29 L373.43 70.33 L372.28 70.37 L371.13 70.42 L369.99 70.46 L368.84 70.49 L367.69 70.53 L366.54 70.57 L365.39 70.61 L364.24 70.65 L363.1 70.68 L361.95 70.72 L360.8 70.75 L359.65 70.79 L358.5 70.82 L357.35 70.86 L356.21 70.89 L355.06 70.92 L353.91 70.96 L352.76 70.99 L351.61 71.02 L350.46 71.05 L349.31 71.08 L348.16 71.11 L347.01 71.14 L345.87 71.17 L344.72 71.2 L343.57 71.23 L342.42 71.26 L341.27 71.29 L340.12 71.32 L338.97 71.34 L337.82 71.37 L336.67 71.4 L335.53 71.42 L334.38 71.45 L333.23 71.48 L332.08 71.5 L330.93 71.53 L329.78 71.55 L328.63 71.58 L327.48 71.6 L326.34 71.63 L325.19 71.65 L324.04 71.67 L322.89 71.7 L321.74 71.72 L320.59 71.74 L319.44 71.77 L318.29 71.79 L317.15 71.81 L316 71.83 L314.85 71.86 L313.7 71.88 L312.55 71.9 L311.4 71.92 L310.25 71.94 L309.11 71.96 L307.96 71.98 L306.81 72 L305.66 72.03 L304.51 72.05 L303.36 72.07 L302.21 72.09 L301.07 72.1 L299.92 72.12 L298.77 72.14 L297.62 72.16 L296.47 72.18 L295.32 72.2 L294.17 72.21 L293.03 72.23 L291.88 72.25 L290.73 72.27 L289.58 72.28 L288.43 72.3 L287.28 72.31 L286.13 72.33 L284.98 72.35 L283.84 72.36 L282.69 72.37 L281.54 72.39 L280.39 72.4 L279.24 72.42 L278.09 72.43 L276.94 72.44 L275.8 72.45 L274.65 72.47 L273.5 72.48 L272.35 72.49 L271.2 72.5" stroke="#2a7de0" stroke-width="1.5" fill="none" stroke-linejoin="round" />
<path d="M271.2 79 L271.2 78.77 L271.21 78.34 L271.23 77.79 L271.26 77.14 L271.3 76.43 L271.35 75.68 L271.41 74.88 L271.48 74.07 L271.57 73.25 L271.66 72.42 L271.77 71.61 L271.89 70.8 L272.02 70.02 L272.17 69.26 L272.33 68.52 L272.5 67.82 L272.69 67.14 L272.89 66.51 L273.1 65.9 L273.33 65.33 L273.57 64.79 L273.82 64.29 L274.09 63.83 L274.38 63.39 L274.67 62.99 L274.99 62.62 L275.32 62.28 L275.66 61.96 L276.02 61.68 L276.39 61.41 L276.78 61.17 L277.18 60.96 L277.6 60.76 L278.03 60.58 L278.48 60.42 L278.95 60.27 L279.43 60.14 L279.93 60.02 L280.44 59.91 L280.97 59.82 L281.52 59.73 L282.08 59.65 L282.66 59.58 L283.25 59.52 L283.86 59.46 L284.49 59.41 L285.13 59.37 L285.8 59.32 L286.47 59.29 L287.17 59.25 L287.88 59.22 L288.61 59.19 L289.35 59.16 L290.11 59.14 L290.89 59.11 L291.69 59.09 L292.5 59.07 L293.33 59.05 L294.18 59.03 L295.05 59.01 L295.93 59 L296.83 58.98 L297.75 58.96 L298.68 58.94 L299.64 58.92 L300.61 58.91 L301.6 58.89 L302.6 58.87 L303.63 58.85 L304.67 58.84 L305.73 58.82 L306.81 58.8 L307.91 58.78 L309.03 58.76 L310.16 58.74 L311.31 58.72 L312.48 58.7 L313.67 58.68 L314.88 58.66 L316.1 58.64 L317.35 58.62 L318.61 58.6 L319.89 58.58 L321.19 58.56 L322.51 58.53 L323.85 58.51 L325.2 58.49 L326.58 58.47 L327.97 58.44 L329.38 58.42 L330.82 58.4 L332.27 58.37 L333.74 58.35 L335.23 58.33 L336.73 58.3 L338.26 58.27 L339.81 58.25 L341.37 58.22 L342.96 58.19 L344.56 58.16 L346.19 58.13 L347.83 58.1 L349.49 58.07 L351.17 58.03 L352.88 58 L354.6 57.96 L356.34 57.93 L358.1 57.89 L359.88 57.85 L361.68 57.8 L363.5 57.76 L365.34 57.71 L367.19 57.66 L369.07 57.61 L370.97 57.56 L372.89 57.5 L374.83 57.44 L376.79 57.38 L378.77 57.32 L380.77 57.25 L382.78 57.18 L384.82 57.11 L386.88 57.02 L388.96 56.92 L391.06 56.81 L393.18 56.67 L395.32 56.51 L397.48 56.33 L399.66 56.13 L401.86 55.89 L404.08 55.59 L406.33 55.23 L408.59 54.82 L410.87 54.34 L413.17 53.81 L415.5 53.22 L417.84 52.59 L420.21 51.9 L422.59 51.17 L425 50.4 L425 50.4 L425.18 51.58 L425.17 52.77 L425.05 53.97 L424.84 55.18 L424.57 56.35 L424.27 57.47 L423.91 58.54 L423.39 59.63 L422.76 60.72 L422.02 61.76 L421.21 62.74 L420.37 63.62 L419.52 64.38 L418.67 65.01 L417.77 65.6 L416.83 66.18 L415.83 66.74 L414.79 67.28 L413.71 67.79 L412.6 68.28 L411.45 68.75 L410.29 69.2 L409.1 69.61 L407.91 70 L406.7 70.36 L405.49 70.69 L404.28 70.99 L403.08 71.26 L401.88 71.5 L400.71 71.7 L399.55 71.86 L398.39 72.01 L397.22 72.14 L396.05 72.26 L394.86 72.37 L393.67 72.48 L392.48 72.57 L391.28 72.66 L390.09 72.75 L388.89 72.83 L387.69 72.91 L386.5 72.99 L385.31 73.08 L384.12 73.16 L382.94 73.25 L381.75 73.33 L380.56 73.42 L379.38 73.5 L378.19 73.58 L377 73.66 L375.81 73.75 L374.63 73.83 L373.44 73.91 L372.25 73.99 L371.06 74.06 L369.88 74.14 L368.69 74.22 L367.5 74.3 L366.31 74.37 L365.12 74.45 L363.94 74.52 L362.75 74.6 L361.56 74.67 L360.37 74.74 L359.18 74.81 L358 74.89 L356.81 74.96 L355.62 75.03 L354.43 75.1 L353.24 75.17 L352.05 75.24 L350.87 75.31 L349.68 75.38 L348.49 75.44 L347.3 75.51 L346.11 75.58 L344.92 75.64 L343.73 75.71 L342.55 75.77 L341.36 75.84 L340.17 75.9 L338.98 75.97 L337.79 76.03 L336.6 76.1 L335.41 76.16 L334.22 76.22 L333.04 76.28 L331.85 76.34 L330.66 76.41 L329.47 76.47 L328.28 76.53 L327.09 76.59 L325.9 76.65 L324.71 76.71 L323.52 76.77 L322.34 76.82 L321.15 76.88 L319.96 76.94 L318.77 77 L317.58 77.06 L316.39 77.11 L315.2 77.17 L314.01 77.23 L312.82 77.28 L311.64 77.34 L310.45 77.4 L309.26 77.45 L308.07 77.51 L306.88 77.56 L305.69 77.62 L304.5 77.67 L303.31 77.72 L302.12 77.78 L300.93 77.83 L299.75 77.88 L298.56 77.93 L297.37 77.98 L296.18 78.03 L294.99 78.08 L293.8 78.13 L292.61 78.18 L291.42 78.23 L290.23 78.28 L289.04 78.33 L287.85 78.38 L286.66 78.42 L285.47 78.47 L284.28 78.52 L283.1 78.56 L281.91 78.61 L280.72 78.65 L279.53 78.7 L278.34 78.74 L277.15 78.79 L275.96 78.83 L274.77 78.87 L273.58 78.92 L272.39 78.96 L271.2 79" stroke="#27a45c" stroke-width="1.5" fill="none" stroke-linejoin="round" />
<path d="M271.2 88.2 L271.2 87.86 L271.21 87.22 L271.23 86.39 L271.26 85.42 L271.3 84.34 L271.35 83.18 L271.41 81.95 L271.48 80.68 L271.57 79.38 L271.66 78.06 L271.77 76.74 L271.89 75.42 L272.02 74.11 L272.17 72.82 L272.33 71.56 L272.5 70.33 L272.69 69.14 L272.89 67.99 L273.1 66.88 L273.33 65.81 L273.57 64.8 L273.82 63.83 L274.09 62.91 L274.38 62.03 L274.67 61.21 L274.99 60.43 L275.32 59.7 L275.66 59.01 L276.02 58.37 L276.39 57.77 L276.78 57.22 L277.18 56.7 L277.6 56.22 L278.03 55.77 L278.48 55.36 L278.95 54.98 L279.43 54.63 L279.93 54.31 L280.44 54.01 L280.97 53.74 L281.52 53.49 L282.08 53.27 L282.66 53.06 L283.25 52.87 L283.86 52.69 L284.49 52.54 L285.13 52.39 L285.8 52.26 L286.47 52.14 L287.17 52.03 L287.88 51.93 L288.61 51.84 L289.35 51.76 L290.11 51.68 L290.89 51.61 L291.69 51.55 L292.5 51.49 L293.33 51.44 L294.18 51.39 L295.05 51.34 L295.93 51.3 L296.83 51.26 L297.75 51.22 L298.68 51.19 L299.64 51.15 L300.61 51.12 L301.6 51.09 L302.6 51.06 L303.63 51.03 L304.67 51.01 L305.73 50.98 L306.81 50.95 L307.91 50.92 L309.03 50.9 L310.16 50.87 L311.31 50.85 L312.48 50.82 L313.67 50.8 L314.88 50.77 L316.1 50.75 L317.35 50.72 L318.61 50.7 L319.89 50.68 L321.19 50.65 L322.51 50.63 L323.85 50.61 L325.2 50.59 L326.58 50.57 L327.97 50.54 L329.38 50.52 L330.82 50.5 L332.27 50.48 L333.74 50.46 L335.23 50.43 L336.73 50.41 L338.26 50.39 L339.81 50.36 L341.37 50.34 L342.96 50.31 L344.56 50.29 L346.19 50.26 L347.83 50.23 L349.49 50.2 L351.17 50.17 L352.88 50.14 L354.6 50.1 L356.34 50.06 L358.1 50.02 L359.88 49.98 L361.68 49.94 L363.5 49.89 L365.34 49.84 L367.19 49.78 L369.07 49.73 L370.97 49.67 L372.89 49.6 L374.83 49.53 L376.79 49.46 L378.77 49.38 L380.77 49.29 L382.78 49.2 L384.82 49.11 L386.88 48.97 L388.96 48.73 L391.06 48.42 L393.18 48.06 L395.32 47.67 L397.48 47.26 L399.66 46.87 L401.86 46.49 L404.08 46.1 L406.33 45.68 L408.59 45.24 L410.87 44.76 L413.17 44.23 L415.5 43.63 L417.84 42.94 L420.21 42.16 L422.59 41.31 L425 40.4 L425 40.4 L424.99 41.68 L424.97 42.95 L424.93 44.21 L424.88 45.46 L424.81 46.7 L424.66 47.94 L424.35 49.16 L423.95 50.37 L423.54 51.57 L423.14 52.77 L422.7 53.96 L422.22 55.14 L421.7 56.3 L421.15 57.41 L420.55 58.5 L419.9 59.58 L419.19 60.65 L418.44 61.7 L417.65 62.73 L416.83 63.71 L415.98 64.65 L415.11 65.52 L414.22 66.34 L413.3 67.14 L412.33 67.93 L411.33 68.71 L410.3 69.47 L409.23 70.21 L408.15 70.92 L407.04 71.6 L405.91 72.25 L404.77 72.86 L403.63 73.43 L402.47 73.95 L401.32 74.43 L400.17 74.84 L399.01 75.22 L397.83 75.57 L396.63 75.9 L395.41 76.21 L394.18 76.5 L392.93 76.77 L391.68 77.03 L390.43 77.27 L389.17 77.51 L387.91 77.73 L386.66 77.93 L385.41 78.14 L384.17 78.33 L382.93 78.52 L381.69 78.71 L380.45 78.9 L379.2 79.08 L377.96 79.26 L376.72 79.44 L375.47 79.62 L374.22 79.79 L372.98 79.97 L371.73 80.14 L370.48 80.3 L369.24 80.47 L367.99 80.63 L366.74 80.8 L365.49 80.96 L364.24 81.11 L362.98 81.27 L361.73 81.42 L360.48 81.57 L359.23 81.72 L357.98 81.87 L356.72 82.01 L355.47 82.16 L354.21 82.3 L352.96 82.44 L351.7 82.57 L350.45 82.71 L349.19 82.84 L347.94 82.97 L346.68 83.1 L345.43 83.23 L344.17 83.36 L342.91 83.48 L341.65 83.6 L340.4 83.72 L339.14 83.84 L337.88 83.96 L336.63 84.08 L335.37 84.19 L334.11 84.3 L332.85 84.41 L331.59 84.52 L330.34 84.63 L329.08 84.74 L327.82 84.84 L326.56 84.94 L325.3 85.05 L324.05 85.15 L322.79 85.24 L321.53 85.34 L320.27 85.44 L319.02 85.53 L317.76 85.63 L316.5 85.72 L315.25 85.81 L313.99 85.9 L312.73 85.98 L311.48 86.07 L310.22 86.16 L308.96 86.24 L307.71 86.32 L306.45 86.41 L305.19 86.49 L303.94 86.57 L302.68 86.65 L301.42 86.73 L300.16 86.8 L298.91 86.88 L297.65 86.95 L296.39 87.03 L295.13 87.1 L293.87 87.17 L292.61 87.24 L291.36 87.31 L290.1 87.38 L288.84 87.44 L287.58 87.51 L286.32 87.57 L285.06 87.63 L283.8 87.69 L282.54 87.75 L281.28 87.81 L280.02 87.86 L278.76 87.91 L277.5 87.97 L276.24 88.02 L274.98 88.06 L273.72 88.11 L272.46 88.16 L271.2 88.2" stroke="#b479e8" stroke-width="1.5" fill="none" stroke-linejoin="round" />
<path d="M271.2 110.4 L271.2 109.94 L271.21 109.07 L271.23 107.94 L271.26 106.61 L271.3 105.11 L271.35 103.48 L271.41 101.74 L271.48 99.92 L271.57 98.02 L271.67 96.07 L271.77 94.07 L271.89 92.05 L272.03 90.02 L272.18 87.97 L272.34 85.94 L272.51 83.91 L272.7 81.9 L272.9 79.92 L273.11 77.97 L273.34 76.06 L273.58 74.19 L273.84 72.36 L274.11 70.58 L274.39 68.86 L274.69 67.18 L275.01 65.56 L275.34 64 L275.68 62.5 L276.04 61.05 L276.42 59.66 L276.81 58.33 L277.21 57.06 L277.63 55.84 L278.07 54.68 L278.52 53.58 L278.99 52.53 L279.48 51.53 L279.98 50.59 L280.49 49.69 L281.02 48.84 L281.57 48.04 L282.14 47.29 L282.72 46.57 L283.32 45.9 L283.93 45.27 L284.56 44.68 L285.21 44.12 L285.87 43.6 L286.55 43.11 L287.25 42.65 L287.96 42.22 L288.7 41.82 L289.44 41.45 L290.21 41.1 L290.99 40.77 L291.79 40.47 L292.61 40.19 L293.45 39.92 L294.3 39.68 L295.17 39.45 L296.06 39.24 L296.96 39.04 L297.89 38.85 L298.83 38.68 L299.78 38.52 L300.76 38.37 L301.76 38.23 L302.77 38.1 L303.8 37.98 L304.85 37.87 L305.91 37.76 L307 37.66 L308.1 37.57 L309.22 37.48 L310.36 37.4 L311.52 37.32 L312.7 37.25 L313.89 37.18 L315.1 37.11 L316.34 37.05 L317.59 36.98 L318.86 36.92 L320.14 36.86 L321.45 36.8 L322.78 36.75 L324.12 36.69 L325.48 36.64 L326.87 36.59 L328.27 36.53 L329.69 36.48 L331.13 36.43 L332.58 36.38 L334.06 36.34 L335.56 36.29 L337.07 36.24 L338.61 36.19 L340.16 36.15 L341.74 36.11 L343.33 36.06 L344.94 36.02 L346.58 35.98 L348.23 35.94 L349.9 35.91 L351.59 35.88 L353.3 35.84 L355.03 35.82 L356.78 35.79 L358.55 35.77 L360.34 35.74 L362.15 35.72 L363.98 35.7 L365.83 35.68 L367.69 35.65 L369.58 35.63 L371.49 35.6 L373.42 35.57 L375.37 35.54 L377.34 35.5 L379.33 35.46 L381.34 35.41 L383.36 35.35 L385.41 35.29 L387.48 35.18 L389.57 35.01 L391.68 34.8 L393.81 34.55 L395.97 34.28 L398.14 33.99 L400.33 33.69 L402.54 33.35 L404.77 32.96 L407.03 32.53 L409.3 32.05 L411.6 31.53 L413.91 30.95 L416.25 30.29 L418.61 29.51 L420.98 28.62 L423.38 27.65 L425.8 26.6 L425.8 26.6 L425.8 28.09 L425.8 29.58 L425.8 31.07 L425.8 32.56 L425.8 34.04 L425.8 35.53 L425.8 37.02 L425.8 38.51 L425.8 40 L425.8 41.49 L425.8 42.98 L425.79 44.47 L425.78 45.95 L425.77 47.44 L425.76 48.93 L425.75 50.42 L425.73 51.91 L425.72 53.4 L425.7 54.89 L425.68 56.38 L425.64 57.87 L425.59 59.36 L425.53 60.85 L425.46 62.34 L425.38 63.82 L425.28 65.3 L425.11 66.79 L424.88 68.28 L424.57 69.75 L424.22 71.19 L423.82 72.58 L423.29 74 L422.64 75.4 L421.88 76.77 L421.05 78.04 L420.16 79.19 L419.23 80.18 L418.15 81.09 L416.95 81.96 L415.66 82.76 L414.3 83.52 L412.9 84.21 L411.5 84.86 L410.13 85.45 L408.77 85.99 L407.39 86.49 L405.99 86.95 L404.56 87.39 L403.13 87.81 L401.68 88.21 L400.23 88.59 L398.78 88.98 L397.33 89.36 L395.88 89.75 L394.45 90.16 L393.01 90.56 L391.58 90.97 L390.14 91.36 L388.71 91.75 L387.27 92.13 L385.83 92.5 L384.38 92.85 L382.93 93.2 L381.49 93.54 L380.04 93.88 L378.59 94.22 L377.14 94.56 L375.69 94.9 L374.24 95.23 L372.78 95.56 L371.33 95.89 L369.88 96.21 L368.42 96.54 L366.97 96.86 L365.51 97.18 L364.05 97.49 L362.59 97.8 L361.14 98.11 L359.68 98.41 L358.22 98.71 L356.76 99.01 L355.3 99.3 L353.83 99.59 L352.37 99.88 L350.91 100.16 L349.45 100.44 L347.98 100.71 L346.52 100.98 L345.05 101.24 L343.59 101.5 L342.12 101.76 L340.65 102.01 L339.19 102.25 L337.72 102.49 L336.25 102.73 L334.78 102.96 L333.31 103.18 L331.84 103.4 L330.37 103.61 L328.89 103.82 L327.42 104.02 L325.94 104.22 L324.47 104.42 L322.99 104.61 L321.51 104.79 L320.03 104.98 L318.55 105.16 L317.08 105.34 L315.6 105.52 L314.12 105.7 L312.64 105.88 L311.16 106.06 L309.69 106.24 L308.21 106.42 L306.73 106.59 L305.25 106.76 L303.77 106.94 L302.29 107.11 L300.81 107.28 L299.34 107.45 L297.86 107.62 L296.38 107.79 L294.9 107.95 L293.42 108.12 L291.94 108.28 L290.46 108.44 L288.98 108.6 L287.5 108.76 L286.02 108.92 L284.54 109.08 L283.06 109.23 L281.57 109.38 L280.09 109.53 L278.61 109.68 L277.13 109.83 L275.65 109.97 L274.17 110.12 L272.68 110.26 L271.2 110.4" stroke="#d89a1a" stroke-width="1.5" fill="none" stroke-linejoin="round" />
<rect x="258.28" y="13.03" width="180.88" height="145.67" fill="none" stroke="#000" stroke-width="1.3" />
<line x1="258.28" y1="158.7" x2="255.88" y2="158.7" stroke="#000" stroke-width="1" />
<line x1="258.28" y1="143.37" x2="255.88" y2="143.37" stroke="#000" stroke-width="1" />
<line x1="258.28" y1="128.04" x2="255.88" y2="128.04" stroke="#000" stroke-width="1" />
<line x1="258.28" y1="112.7" x2="255.88" y2="112.7" stroke="#000" stroke-width="1" />
<line x1="258.28" y1="97.37" x2="255.88" y2="97.37" stroke="#000" stroke-width="1" />
<line x1="258.28" y1="82.03" x2="255.88" y2="82.03" stroke="#000" stroke-width="1" />
<line x1="258.28" y1="66.7" x2="255.88" y2="66.7" stroke="#000" stroke-width="1" />
<line x1="258.28" y1="51.37" x2="255.88" y2="51.37" stroke="#000" stroke-width="1" />
<line x1="258.28" y1="36.03" x2="255.88" y2="36.03" stroke="#000" stroke-width="1" />
<line x1="258.28" y1="20.7" x2="255.88" y2="20.7" stroke="#000" stroke-width="1" />
<line x1="258.28" y1="151.04" x2="256.88" y2="151.04" stroke="#000" stroke-width="1" />
<line x1="258.28" y1="135.7" x2="256.88" y2="135.7" stroke="#000" stroke-width="1" />
<line x1="258.28" y1="120.37" x2="256.88" y2="120.37" stroke="#000" stroke-width="1" />
<line x1="258.28" y1="105.03" x2="256.88" y2="105.03" stroke="#000" stroke-width="1" />
<line x1="258.28" y1="89.7" x2="256.88" y2="89.7" stroke="#000" stroke-width="1" />
<line x1="258.28" y1="74.37" x2="256.88" y2="74.37" stroke="#000" stroke-width="1" />
<line x1="258.28" y1="59.03" x2="256.88" y2="59.03" stroke="#000" stroke-width="1" />
<line x1="258.28" y1="43.7" x2="256.88" y2="43.7" stroke="#000" stroke-width="1" />
<line x1="258.28" y1="28.37" x2="256.88" y2="28.37" stroke="#000" stroke-width="1" />
<line x1="271.2" y1="158.7" x2="271.2" y2="161.1" stroke="#000" stroke-width="1" />
<line x1="297.04" y1="158.7" x2="297.04" y2="161.1" stroke="#000" stroke-width="1" />
<line x1="322.88" y1="158.7" x2="322.88" y2="161.1" stroke="#000" stroke-width="1" />
<line x1="348.72" y1="158.7" x2="348.72" y2="161.1" stroke="#000" stroke-width="1" />
<line x1="374.56" y1="158.7" x2="374.56" y2="161.1" stroke="#000" stroke-width="1" />
<line x1="400.4" y1="158.7" x2="400.4" y2="161.1" stroke="#000" stroke-width="1" />
<line x1="426.24" y1="158.7" x2="426.24" y2="161.1" stroke="#000" stroke-width="1" />
<line x1="258.28" y1="158.7" x2="258.28" y2="160.1" stroke="#000" stroke-width="1" />
<line x1="284.12" y1="158.7" x2="284.12" y2="160.1" stroke="#000" stroke-width="1" />
<line x1="309.96" y1="158.7" x2="309.96" y2="160.1" stroke="#000" stroke-width="1" />
<line x1="335.8" y1="158.7" x2="335.8" y2="160.1" stroke="#000" stroke-width="1" />
<line x1="361.64" y1="158.7" x2="361.64" y2="160.1" stroke="#000" stroke-width="1" />
<line x1="387.48" y1="158.7" x2="387.48" y2="160.1" stroke="#000" stroke-width="1" />
<line x1="413.32" y1="158.7" x2="413.32" y2="160.1" stroke="#000" stroke-width="1" />
<line x1="439.16" y1="158.7" x2="439.16" y2="160.1" stroke="#000" stroke-width="1" />
<text x="253.6" y="161.6" font-size="8.2" text-anchor="end" fill="#111" stroke="#111" stroke-width="0.27" >-12</text>
<text x="253.6" y="146.27" font-size="8.2" text-anchor="end" fill="#111" stroke="#111" stroke-width="0.27" >-10</text>
<text x="253.6" y="130.94" font-size="8.2" text-anchor="end" fill="#111" stroke="#111" stroke-width="0.27" >-8</text>
<text x="253.6" y="115.6" font-size="8.2" text-anchor="end" fill="#111" stroke="#111" stroke-width="0.27" >-6</text>
<text x="253.6" y="100.27" font-size="8.2" text-anchor="end" fill="#111" stroke="#111" stroke-width="0.27" >-4</text>
<text x="253.6" y="84.93" font-size="8.2" text-anchor="end" fill="#111" stroke="#111" stroke-width="0.27" >-2</text>
<text x="253.6" y="69.6" font-size="8.2" text-anchor="end" fill="#111" stroke="#111" stroke-width="0.27" >0</text>
<text x="253.6" y="54.27" font-size="8.2" text-anchor="end" fill="#111" stroke="#111" stroke-width="0.27" >2</text>
<text x="253.6" y="38.93" font-size="8.2" text-anchor="end" fill="#111" stroke="#111" stroke-width="0.27" >4</text>
<text x="253.6" y="23.6" font-size="8.2" text-anchor="end" fill="#111" stroke="#111" stroke-width="0.27" >6</text>
<text x="271.2" y="170" font-size="8" text-anchor="middle" fill="#111" stroke="#111" stroke-width="0.27" >0.0</text>
<text x="297.04" y="170" font-size="8" text-anchor="middle" fill="#111" stroke="#111" stroke-width="0.27" >0.2</text>
<text x="322.88" y="170" font-size="8" text-anchor="middle" fill="#111" stroke="#111" stroke-width="0.27" >0.4</text>
<text x="348.72" y="170" font-size="8" text-anchor="middle" fill="#111" stroke="#111" stroke-width="0.27" >0.6</text>
<text x="374.56" y="170" font-size="8" text-anchor="middle" fill="#111" stroke="#111" stroke-width="0.27" >0.8</text>
<text x="400.4" y="170" font-size="8" text-anchor="middle" fill="#111" stroke="#111" stroke-width="0.27" >1.0</text>
<text x="426.24" y="170" font-size="8" text-anchor="middle" fill="#111" stroke="#111" stroke-width="0.27" >1.2</text>
<text x="347.9" y="184.6" font-size="8.85" text-anchor="middle" fill="#111" stroke="#111" stroke-width="0.29" >Potential(V vs.SCE)</text>
<text x="233.2" y="80.4" font-size="9.2" text-anchor="middle" fill="#111" stroke="#111" stroke-width="0.31" transform="rotate(-90 233.2 80.4)" >Current Density(A g<tspan dy="-3" font-size="5.6">-1</tspan><tspan dy="3">)</tspan></text>
<text x="233.6" y="19.4" font-size="20" text-anchor="start" fill="#111" stroke="#111" stroke-width="0.67" >b</text>
<line x1="373.2" y1="101.4" x2="389.1" y2="101.4" stroke="#ee3b3b" stroke-width="1.4" />
<text x="393.3" y="104.4" font-size="8.3" text-anchor="start" fill="#111" stroke="#111" stroke-width="0.28" >5 mV s<tspan dy="-3.1" font-size="5.6">-1</tspan></text>
<line x1="373.2" y1="113.7" x2="389.1" y2="113.7" stroke="#2a7de0" stroke-width="1.4" />
<text x="393.3" y="116.7" font-size="8.3" text-anchor="start" fill="#111" stroke="#111" stroke-width="0.28" >10 mV s<tspan dy="-3.1" font-size="5.6">-1</tspan></text>
<line x1="373.2" y1="126" x2="389.1" y2="126" stroke="#27a45c" stroke-width="1.4" />
<text x="393.3" y="129" font-size="8.3" text-anchor="start" fill="#111" stroke="#111" stroke-width="0.28" >25 mV s<tspan dy="-3.1" font-size="5.6">-1</tspan></text>
<line x1="373.2" y1="138.3" x2="389.1" y2="138.3" stroke="#b479e8" stroke-width="1.4" />
<text x="393.3" y="141.3" font-size="8.3" text-anchor="start" fill="#111" stroke="#111" stroke-width="0.28" >50 mV s<tspan dy="-3.1" font-size="5.6">-1</tspan></text>
<line x1="373.2" y1="150.6" x2="389.1" y2="150.6" stroke="#d89a1a" stroke-width="1.4" />
<text x="393.3" y="153.6" font-size="8.3" text-anchor="start" fill="#111" stroke="#111" stroke-width="0.28" >100 mV s<tspan dy="-3.1" font-size="5.6">-1</tspan></text>
<path d="M40.5 337.1 L40.64 335.69 L40.89 333.32 L41.22 330.6 L41.6 327.81 L42.04 325.11 L42.53 322.57 L43.06 320.23 L43.62 318.07 L44.23 316.08 L44.87 314.22 L45.54 312.46 L46.24 310.77 L46.97 309.11 L47.73 307.47 L48.52 305.82 L49.33 304.16 L50.18 302.47 L51.04 300.75 L51.93 298.99 L52.85 297.19 L53.78 295.35 L54.74 293.47 L55.73 291.54 L56.73 289.57 L57.75 287.56 L58.8 285.51 L59.87 283.41 L60.95 281.27 L62.06 279.09 L63.18 276.87 L64.33 274.62 L65.49 272.32 L66.67 269.98 L67.87 267.6 L69.08 265.19 L70.32 262.74 L71.57 260.25 L72.83 257.72 L74.12 255.15 L75.42 252.55 L76.74 249.91 L78.07 247.23 L79.42 244.52 L80.79 241.76 L82.17 238.98 L83.57 236.15 L84.98 233.28 L86.4 230.38 L87.85 227.44 L89.3 224.47 L90.77 221.45 L92.26 218.39 L93.76 215.3 L95.28 212.16 L96.8 208.98 L98.35 205.76 L99.9 202.48 L101.47 199.16 L103.06 195.77 L104.65 192.3 L105.95 196.18 L107.24 200.02 L108.54 203.8 L109.83 207.54 L111.13 211.23 L112.42 214.86 L113.72 218.45 L115.01 221.98 L116.3 225.47 L117.6 228.9 L118.89 232.29 L120.19 235.63 L121.48 238.91 L122.78 242.15 L124.07 245.33 L125.37 248.47 L126.66 251.56 L127.95 254.59 L129.25 257.58 L130.54 260.52 L131.84 263.41 L133.13 266.24 L134.43 269.03 L135.72 271.77 L137.02 274.46 L138.31 277.09 L139.61 279.68 L140.9 282.22 L142.19 284.71 L143.49 287.15 L144.78 289.54 L146.08 291.87 L147.37 294.16 L148.67 296.4 L149.96 298.59 L151.26 300.73 L152.55 302.82 L153.84 304.86 L155.14 306.85 L156.43 308.79 L157.73 310.68 L159.02 312.52 L160.32 314.31 L161.61 316.05 L162.91 317.74 L164.2 319.38 L165.5 320.97 L166.79 322.51 L168.08 324 L169.38 325.44 L170.67 326.83 L171.97 328.17 L173.26 329.46 L174.56 330.7 L175.85 331.9 L177.15 333.04 L178.44 334.13 L179.73 335.17 L181.03 336.16 L182.32 337.1" stroke="#ee3030" stroke-width="1.4" fill="none" stroke-linejoin="round" />
<path d="M40.5 337.1 L40.53 335.69 L40.59 333.32 L40.66 330.6 L40.75 327.81 L40.84 325.11 L40.95 322.57 L41.07 320.23 L41.2 318.07 L41.33 316.08 L41.48 314.22 L41.63 312.46 L41.78 310.77 L41.95 309.11 L42.12 307.47 L42.29 305.82 L42.47 304.16 L42.66 302.47 L42.86 300.75 L43.05 298.99 L43.26 297.19 L43.47 295.35 L43.68 293.47 L43.9 291.54 L44.13 289.57 L44.36 287.56 L44.59 285.51 L44.83 283.41 L45.07 281.27 L45.32 279.09 L45.57 276.87 L45.82 274.62 L46.08 272.32 L46.35 269.98 L46.62 267.6 L46.89 265.19 L47.16 262.74 L47.44 260.25 L47.73 257.72 L48.01 255.15 L48.3 252.55 L48.6 249.91 L48.9 247.23 L49.2 244.52 L49.5 241.76 L49.81 238.98 L50.12 236.15 L50.44 233.28 L50.76 230.38 L51.08 227.44 L51.41 224.47 L51.73 221.45 L52.07 218.39 L52.4 215.3 L52.74 212.16 L53.08 208.98 L53.43 205.76 L53.77 202.48 L54.13 199.16 L54.48 195.77 L54.84 192.3 L55.13 196.18 L55.42 200.02 L55.71 203.8 L56 207.54 L56.29 211.23 L56.58 214.86 L56.87 218.45 L57.16 221.98 L57.45 225.47 L57.74 228.9 L58.03 232.29 L58.32 235.63 L58.61 238.91 L58.9 242.15 L59.19 245.33 L59.48 248.47 L59.77 251.56 L60.06 254.59 L60.35 257.58 L60.64 260.52 L60.93 263.41 L61.22 266.24 L61.51 269.03 L61.8 271.77 L62.09 274.46 L62.38 277.09 L62.67 279.68 L62.96 282.22 L63.25 284.71 L63.54 287.15 L63.83 289.54 L64.12 291.87 L64.41 294.16 L64.7 296.4 L64.99 298.59 L65.28 300.73 L65.57 302.82 L65.86 304.86 L66.15 306.85 L66.44 308.79 L66.73 310.68 L67.02 312.52 L67.31 314.31 L67.6 316.05 L67.89 317.74 L68.18 319.38 L68.47 320.97 L68.76 322.51 L69.05 324 L69.34 325.44 L69.63 326.83 L69.92 328.17 L70.21 329.46 L70.5 330.7 L70.79 331.9 L71.08 333.04 L71.37 334.13 L71.66 335.17 L71.95 336.16 L72.24 337.1" stroke="#2a6ee0" stroke-width="1.4" fill="none" stroke-linejoin="round" />
<path d="M40.5 337.1 L40.57 335.69 L40.7 333.32 L40.86 330.6 L41.06 327.81 L41.28 325.11 L41.52 322.57 L41.79 320.23 L42.08 318.07 L42.38 316.08 L42.71 314.22 L43.04 312.46 L43.4 310.77 L43.77 309.11 L44.15 307.47 L44.55 305.82 L44.96 304.16 L45.39 302.47 L45.83 300.75 L46.28 298.99 L46.74 297.19 L47.21 295.35 L47.7 293.47 L48.19 291.54 L48.7 289.57 L49.22 287.56 L49.74 285.51 L50.28 283.41 L50.83 281.27 L51.39 279.09 L51.96 276.87 L52.54 274.62 L53.12 272.32 L53.72 269.98 L54.33 267.6 L54.94 265.19 L55.56 262.74 L56.19 260.25 L56.84 257.72 L57.48 255.15 L58.14 252.55 L58.81 249.91 L59.48 247.23 L60.16 244.52 L60.85 241.76 L61.55 238.98 L62.26 236.15 L62.97 233.28 L63.69 230.38 L64.42 227.44 L65.15 224.47 L65.9 221.45 L66.65 218.39 L67.41 215.3 L68.17 212.16 L68.94 208.98 L69.72 205.76 L70.51 202.48 L71.3 199.16 L72.1 195.77 L72.91 192.3 L73.54 196.18 L74.17 200.02 L74.8 203.8 L75.43 207.54 L76.05 211.23 L76.68 214.86 L77.31 218.45 L77.94 221.98 L78.57 225.47 L79.2 228.9 L79.83 232.29 L80.46 235.63 L81.09 238.91 L81.71 242.15 L82.34 245.33 L82.97 248.47 L83.6 251.56 L84.23 254.59 L84.86 257.58 L85.49 260.52 L86.12 263.41 L86.75 266.24 L87.37 269.03 L88 271.77 L88.63 274.46 L89.26 277.09 L89.89 279.68 L90.52 282.22 L91.15 284.71 L91.78 287.15 L92.41 289.54 L93.03 291.87 L93.66 294.16 L94.29 296.4 L94.92 298.59 L95.55 300.73 L96.18 302.82 L96.81 304.86 L97.44 306.85 L98.07 308.79 L98.69 310.68 L99.32 312.52 L99.95 314.31 L100.58 316.05 L101.21 317.74 L101.84 319.38 L102.47 320.97 L103.1 322.51 L103.73 324 L104.35 325.44 L104.98 326.83 L105.61 328.17 L106.24 329.46 L106.87 330.7 L107.5 331.9 L108.13 333.04 L108.76 334.13 L109.39 335.17 L110.02 336.16 L110.64 337.1" stroke="#27a45c" stroke-width="1.4" fill="none" stroke-linejoin="round" />
<path d="M40.5 337.1 L40.51 335.69 L40.53 333.32 L40.56 330.6 L40.59 327.81 L40.63 325.11 L40.67 322.57 L40.72 320.23 L40.77 318.07 L40.82 316.08 L40.87 314.22 L40.93 312.46 L40.99 310.77 L41.06 309.11 L41.12 307.47 L41.19 305.82 L41.26 304.16 L41.33 302.47 L41.4 300.75 L41.48 298.99 L41.56 297.19 L41.64 295.35 L41.72 293.47 L41.81 291.54 L41.89 289.57 L41.98 287.56 L42.07 285.51 L42.16 283.41 L42.25 281.27 L42.35 279.09 L42.45 276.87 L42.54 274.62 L42.64 272.32 L42.75 269.98 L42.85 267.6 L42.95 265.19 L43.06 262.74 L43.17 260.25 L43.27 257.72 L43.38 255.15 L43.5 252.55 L43.61 249.91 L43.72 247.23 L43.84 244.52 L43.96 241.76 L44.07 238.98 L44.19 236.15 L44.32 233.28 L44.44 230.38 L44.56 227.44 L44.69 224.47 L44.81 221.45 L44.94 218.39 L45.07 215.3 L45.2 212.16 L45.33 208.98 L45.46 205.76 L45.6 202.48 L45.73 199.16 L45.87 195.77 L46 192.3 L46.11 196.18 L46.22 200.02 L46.33 203.8 L46.44 207.54 L46.55 211.23 L46.66 214.86 L46.77 218.45 L46.87 221.98 L46.98 225.47 L47.09 228.9 L47.2 232.29 L47.31 235.63 L47.42 238.91 L47.53 242.15 L47.64 245.33 L47.74 248.47 L47.85 251.56 L47.96 254.59 L48.07 257.58 L48.18 260.52 L48.29 263.41 L48.4 266.24 L48.51 269.03 L48.62 271.77 L48.72 274.46 L48.83 277.09 L48.94 279.68 L49.05 282.22 L49.16 284.71 L49.27 287.15 L49.38 289.54 L49.49 291.87 L49.59 294.16 L49.7 296.4 L49.81 298.59 L49.92 300.73 L50.03 302.82 L50.14 304.86 L50.25 306.85 L50.36 308.79 L50.46 310.68 L50.57 312.52 L50.68 314.31 L50.79 316.05 L50.9 317.74 L51.01 319.38 L51.12 320.97 L51.23 322.51 L51.34 324 L51.44 325.44 L51.55 326.83 L51.66 328.17 L51.77 329.46 L51.88 330.7 L51.99 331.9 L52.1 333.04 L52.21 334.13 L52.31 335.17 L52.42 336.16 L52.53 337.1" stroke="#b479e8" stroke-width="1.4" fill="none" stroke-linejoin="round" />
<path d="M40.5 337.1 L40.51 335.69 L40.52 333.32 L40.53 330.6 L40.55 327.81 L40.57 325.11 L40.59 322.57 L40.61 320.23 L40.64 318.07 L40.66 316.08 L40.69 314.22 L40.72 312.46 L40.75 310.77 L40.78 309.11 L40.81 307.47 L40.85 305.82 L40.88 304.16 L40.92 302.47 L40.96 300.75 L41 298.99 L41.04 297.19 L41.08 295.35 L41.12 293.47 L41.16 291.54 L41.21 289.57 L41.25 287.56 L41.3 285.51 L41.34 283.41 L41.39 281.27 L41.44 279.09 L41.49 276.87 L41.54 274.62 L41.59 272.32 L41.64 269.98 L41.69 267.6 L41.74 265.19 L41.8 262.74 L41.85 260.25 L41.91 257.72 L41.96 255.15 L42.02 252.55 L42.08 249.91 L42.13 247.23 L42.19 244.52 L42.25 241.76 L42.31 238.98 L42.37 236.15 L42.43 233.28 L42.5 230.38 L42.56 227.44 L42.62 224.47 L42.69 221.45 L42.75 218.39 L42.82 215.3 L42.88 212.16 L42.95 208.98 L43.02 205.76 L43.08 202.48 L43.15 199.16 L43.22 195.77 L43.29 192.3 L43.33 196.18 L43.37 200.02 L43.41 203.8 L43.45 207.54 L43.49 211.23 L43.53 214.86 L43.57 218.45 L43.61 221.98 L43.65 225.47 L43.69 228.9 L43.73 232.29 L43.77 235.63 L43.81 238.91 L43.85 242.15 L43.89 245.33 L43.93 248.47 L43.97 251.56 L44.01 254.59 L44.05 257.58 L44.09 260.52 L44.13 263.41 L44.17 266.24 L44.21 269.03 L44.25 271.77 L44.29 274.46 L44.33 277.09 L44.37 279.68 L44.41 282.22 L44.45 284.71 L44.49 287.15 L44.53 289.54 L44.57 291.87 L44.61 294.16 L44.65 296.4 L44.69 298.59 L44.73 300.73 L44.77 302.82 L44.81 304.86 L44.85 306.85 L44.89 308.79 L44.93 310.68 L44.97 312.52 L45.01 314.31 L45.06 316.05 L45.1 317.74 L45.14 319.38 L45.18 320.97 L45.22 322.51 L45.26 324 L45.3 325.44 L45.34 326.83 L45.38 328.17 L45.42 329.46 L45.46 330.7 L45.5 331.9 L45.54 333.04 L45.58 334.13 L45.62 335.17 L45.66 336.16 L45.7 337.1" stroke="#d89a1a" stroke-width="1.4" fill="none" stroke-linejoin="round" />
<rect x="40.5" y="192.3" width="179.2" height="144.8" fill="none" stroke="#000" stroke-width="1.3" />
<line x1="40.5" y1="192.3" x2="38.1" y2="192.3" stroke="#000" stroke-width="1" />
<line x1="40.5" y1="216.43" x2="38.1" y2="216.43" stroke="#000" stroke-width="1" />
<line x1="40.5" y1="240.57" x2="38.1" y2="240.57" stroke="#000" stroke-width="1" />
<line x1="40.5" y1="264.7" x2="38.1" y2="264.7" stroke="#000" stroke-width="1" />
<line x1="40.5" y1="288.84" x2="38.1" y2="288.84" stroke="#000" stroke-width="1" />
<line x1="40.5" y1="312.97" x2="38.1" y2="312.97" stroke="#000" stroke-width="1" />
<line x1="40.5" y1="337.1" x2="38.1" y2="337.1" stroke="#000" stroke-width="1" />
<line x1="40.5" y1="204.37" x2="39.1" y2="204.37" stroke="#000" stroke-width="1" />
<line x1="40.5" y1="228.5" x2="39.1" y2="228.5" stroke="#000" stroke-width="1" />
<line x1="40.5" y1="252.64" x2="39.1" y2="252.64" stroke="#000" stroke-width="1" />
<line x1="40.5" y1="276.77" x2="39.1" y2="276.77" stroke="#000" stroke-width="1" />
<line x1="40.5" y1="300.9" x2="39.1" y2="300.9" stroke="#000" stroke-width="1" />
<line x1="40.5" y1="325.04" x2="39.1" y2="325.04" stroke="#000" stroke-width="1" />
<line x1="40.5" y1="337.1" x2="40.5" y2="339.5" stroke="#000" stroke-width="1" />
<line x1="66.1" y1="337.1" x2="66.1" y2="339.5" stroke="#000" stroke-width="1" />
<line x1="91.7" y1="337.1" x2="91.7" y2="339.5" stroke="#000" stroke-width="1" />
<line x1="117.3" y1="337.1" x2="117.3" y2="339.5" stroke="#000" stroke-width="1" />
<line x1="142.9" y1="337.1" x2="142.9" y2="339.5" stroke="#000" stroke-width="1" />
<line x1="168.5" y1="337.1" x2="168.5" y2="339.5" stroke="#000" stroke-width="1" />
<line x1="194.1" y1="337.1" x2="194.1" y2="339.5" stroke="#000" stroke-width="1" />
<line x1="219.7" y1="337.1" x2="219.7" y2="339.5" stroke="#000" stroke-width="1" />
<line x1="53.3" y1="337.1" x2="53.3" y2="338.5" stroke="#000" stroke-width="1" />
<line x1="78.9" y1="337.1" x2="78.9" y2="338.5" stroke="#000" stroke-width="1" />
<line x1="104.5" y1="337.1" x2="104.5" y2="338.5" stroke="#000" stroke-width="1" />
<line x1="130.1" y1="337.1" x2="130.1" y2="338.5" stroke="#000" stroke-width="1" />
<line x1="155.7" y1="337.1" x2="155.7" y2="338.5" stroke="#000" stroke-width="1" />
<line x1="181.3" y1="337.1" x2="181.3" y2="338.5" stroke="#000" stroke-width="1" />
<line x1="206.9" y1="337.1" x2="206.9" y2="338.5" stroke="#000" stroke-width="1" />
<text x="35.3" y="195.2" font-size="8" text-anchor="end" fill="#111" stroke="#111" stroke-width="0.27" >0.0</text>
<text x="35.3" y="219.33" font-size="8" text-anchor="end" fill="#111" stroke="#111" stroke-width="0.27" >-0.2</text>
<text x="35.3" y="243.47" font-size="8" text-anchor="end" fill="#111" stroke="#111" stroke-width="0.27" >-0.4</text>
<text x="35.3" y="267.6" font-size="8" text-anchor="end" fill="#111" stroke="#111" stroke-width="0.27" >-0.6</text>
<text x="35.3" y="291.74" font-size="8" text-anchor="end" fill="#111" stroke="#111" stroke-width="0.27" >-0.8</text>
<text x="35.3" y="315.87" font-size="8" text-anchor="end" fill="#111" stroke="#111" stroke-width="0.27" >-1.0</text>
<text x="35.3" y="340" font-size="8" text-anchor="end" fill="#111" stroke="#111" stroke-width="0.27" >-1.2</text>
<text x="40.5" y="349.2" font-size="8" text-anchor="middle" fill="#111" stroke="#111" stroke-width="0.27" >0</text>
<text x="66.1" y="349.2" font-size="8" text-anchor="middle" fill="#111" stroke="#111" stroke-width="0.27" >100</text>
<text x="91.7" y="349.2" font-size="8" text-anchor="middle" fill="#111" stroke="#111" stroke-width="0.27" >200</text>
<text x="117.3" y="349.2" font-size="8" text-anchor="middle" fill="#111" stroke="#111" stroke-width="0.27" >300</text>
<text x="142.9" y="349.2" font-size="8" text-anchor="middle" fill="#111" stroke="#111" stroke-width="0.27" >400</text>
<text x="168.5" y="349.2" font-size="8" text-anchor="middle" fill="#111" stroke="#111" stroke-width="0.27" >500</text>
<text x="194.1" y="349.2" font-size="8" text-anchor="middle" fill="#111" stroke="#111" stroke-width="0.27" >600</text>
<text x="219.7" y="349.2" font-size="8" text-anchor="middle" fill="#111" stroke="#111" stroke-width="0.27" >700</text>
<text x="130.2" y="362.7" font-size="8.8" text-anchor="middle" fill="#111" stroke="#111" stroke-width="0.29" >Time(s)</text>
<text x="12.8" y="258.4" font-size="9.3" text-anchor="middle" fill="#111" stroke="#111" stroke-width="0.31" transform="rotate(-90 12.8 258.4)" >Potential(V vs.SCE)</text>
<text x="9.5" y="197.3" font-size="20" text-anchor="start" fill="#111" stroke="#111" stroke-width="0.67" >c</text>
<line x1="160.1" y1="201.5" x2="176.1" y2="201.5" stroke="#ee3030" stroke-width="1.5" />
<text x="179.8" y="204.6" font-size="8.9" text-anchor="start" fill="#111" stroke="#111" stroke-width="0.3" >0.5 A g<tspan dy="-3.3" font-size="6">-1</tspan></text>
<line x1="160.1" y1="213.7" x2="176.1" y2="213.7" stroke="#2a6ee0" stroke-width="1.5" />
<text x="179.8" y="216.8" font-size="8.9" text-anchor="start" fill="#111" stroke="#111" stroke-width="0.3" >1 A g<tspan dy="-3.3" font-size="6">-1</tspan></text>
<line x1="160.1" y1="225.9" x2="176.1" y2="225.9" stroke="#27a45c" stroke-width="1.5" />
<text x="179.8" y="229" font-size="8.9" text-anchor="start" fill="#111" stroke="#111" stroke-width="0.3" >2 A g<tspan dy="-3.3" font-size="6">-1</tspan></text>
<line x1="160.1" y1="238.1" x2="176.1" y2="238.1" stroke="#b479e8" stroke-width="1.5" />
<text x="179.8" y="241.2" font-size="8.9" text-anchor="start" fill="#111" stroke="#111" stroke-width="0.3" >5 A g<tspan dy="-3.3" font-size="6">-1</tspan></text>
<line x1="160.1" y1="250.3" x2="176.1" y2="250.3" stroke="#d89a1a" stroke-width="1.5" />
<text x="179.8" y="253.4" font-size="8.9" text-anchor="start" fill="#111" stroke="#111" stroke-width="0.3" >10 A g<tspan dy="-3.3" font-size="6">-1</tspan></text>
<line x1="274.86" y1="190.7" x2="274.86" y2="338.7" stroke="#f4f4f4" stroke-width="0.6" />
<line x1="285.6" y1="190.7" x2="285.6" y2="338.7" stroke="#f4f4f4" stroke-width="0.6" />
<line x1="293.23" y1="190.7" x2="293.23" y2="338.7" stroke="#f4f4f4" stroke-width="0.6" />
<line x1="299.14" y1="190.7" x2="299.14" y2="338.7" stroke="#f4f4f4" stroke-width="0.6" />
<line x1="303.97" y1="190.7" x2="303.97" y2="338.7" stroke="#f4f4f4" stroke-width="0.6" />
<line x1="308.05" y1="190.7" x2="308.05" y2="338.7" stroke="#f4f4f4" stroke-width="0.6" />
<line x1="311.59" y1="190.7" x2="311.59" y2="338.7" stroke="#f4f4f4" stroke-width="0.6" />
<line x1="314.71" y1="190.7" x2="314.71" y2="338.7" stroke="#f4f4f4" stroke-width="0.6" />
<line x1="335.86" y1="190.7" x2="335.86" y2="338.7" stroke="#f4f4f4" stroke-width="0.6" />
<line x1="346.6" y1="190.7" x2="346.6" y2="338.7" stroke="#f4f4f4" stroke-width="0.6" />
<line x1="354.23" y1="190.7" x2="354.23" y2="338.7" stroke="#f4f4f4" stroke-width="0.6" />
<line x1="360.14" y1="190.7" x2="360.14" y2="338.7" stroke="#f4f4f4" stroke-width="0.6" />
<line x1="364.97" y1="190.7" x2="364.97" y2="338.7" stroke="#f4f4f4" stroke-width="0.6" />
<line x1="369.05" y1="190.7" x2="369.05" y2="338.7" stroke="#f4f4f4" stroke-width="0.6" />
<line x1="372.59" y1="190.7" x2="372.59" y2="338.7" stroke="#f4f4f4" stroke-width="0.6" />
<line x1="375.71" y1="190.7" x2="375.71" y2="338.7" stroke="#f4f4f4" stroke-width="0.6" />
<line x1="396.86" y1="190.7" x2="396.86" y2="338.7" stroke="#f4f4f4" stroke-width="0.6" />
<line x1="407.6" y1="190.7" x2="407.6" y2="338.7" stroke="#f4f4f4" stroke-width="0.6" />
<line x1="415.23" y1="190.7" x2="415.23" y2="338.7" stroke="#f4f4f4" stroke-width="0.6" />
<line x1="421.14" y1="190.7" x2="421.14" y2="338.7" stroke="#f4f4f4" stroke-width="0.6" />
<line x1="425.97" y1="190.7" x2="425.97" y2="338.7" stroke="#f4f4f4" stroke-width="0.6" />
<line x1="430.05" y1="190.7" x2="430.05" y2="338.7" stroke="#f4f4f4" stroke-width="0.6" />
<line x1="433.59" y1="190.7" x2="433.59" y2="338.7" stroke="#f4f4f4" stroke-width="0.6" />
<line x1="436.71" y1="190.7" x2="436.71" y2="338.7" stroke="#f4f4f4" stroke-width="0.6" />
<line x1="256.5" y1="306.7" x2="439.5" y2="306.7" stroke="#f4f4f4" stroke-width="0.6" />
<line x1="256.5" y1="287.98" x2="439.5" y2="287.98" stroke="#f4f4f4" stroke-width="0.6" />
<line x1="256.5" y1="274.7" x2="439.5" y2="274.7" stroke="#f4f4f4" stroke-width="0.6" />
<line x1="256.5" y1="264.4" x2="439.5" y2="264.4" stroke="#f4f4f4" stroke-width="0.6" />
<line x1="256.5" y1="255.98" x2="439.5" y2="255.98" stroke="#f4f4f4" stroke-width="0.6" />
<line x1="256.5" y1="248.87" x2="439.5" y2="248.87" stroke="#f4f4f4" stroke-width="0.6" />
<line x1="256.5" y1="242.7" x2="439.5" y2="242.7" stroke="#f4f4f4" stroke-width="0.6" />
<line x1="256.5" y1="237.26" x2="439.5" y2="237.26" stroke="#f4f4f4" stroke-width="0.6" />
<line x1="256.5" y1="200.4" x2="439.5" y2="200.4" stroke="#f4f4f4" stroke-width="0.6" />
<line x1="317.5" y1="190.7" x2="317.5" y2="338.7" stroke="#cfcfcf" stroke-width="0.9" />
<line x1="378.5" y1="190.7" x2="378.5" y2="338.7" stroke="#cfcfcf" stroke-width="0.9" />
<line x1="256.5" y1="232.4" x2="439.5" y2="232.4" stroke="#d6d6d6" stroke-width="1.2" />
<rect x="380.5" y="243.2" width="57.5" height="94.5" fill="#fff" stroke="none" stroke-width="1" />
<defs><linearGradient id="pgL" x1="0" y1="0" x2="0.3" y2="1"><stop offset="0" stop-color="#e0e0e0"/><stop offset="0.5" stop-color="#d6d6d6"/><stop offset="1" stop-color="#c8c8c8"/></linearGradient><linearGradient id="pgR" x1="0" y1="0" x2="0.3" y2="1"><stop offset="0" stop-color="#eaeaea"/><stop offset="0.5" stop-color="#dcdcdc"/><stop offset="1" stop-color="#cfcfcf"/></linearGradient><radialGradient id="sphR" cx="0.4" cy="0.36" r="0.62"><stop offset="0" stop-color="#ffe8e8"/><stop offset="0.22" stop-color="#f87070"/><stop offset="0.5" stop-color="#ee3434"/><stop offset="1" stop-color="#dc2020"/></radialGradient><radialGradient id="sphB" cx="0.4" cy="0.36" r="0.62"><stop offset="0" stop-color="#f0f8ff"/><stop offset="0.22" stop-color="#8cbce6"/><stop offset="0.5" stop-color="#62a0da"/><stop offset="1" stop-color="#4a88c8"/></radialGradient></defs>
<rect x="257.2" y="263.8" width="60.6" height="74.2" fill="url(#pgL)" stroke="none" stroke-width="1" />
<rect x="317.8" y="263.8" width="60.6" height="74.2" fill="url(#pgR)" stroke="none" stroke-width="1" />
<g transform="translate(270.7 264.9) scale(1)">
<path d="M5.1 10.4 C0 16 -8 22 -11.1 27.1" stroke="#2a2a2a" stroke-width="0.9774999999999999" fill="none" stroke-linecap="round"/>
<path d="M-11.1 28.4 L-1.4 38.1" stroke="#f4f4f4" stroke-width="0.69" fill="none" stroke-linecap="round"/>
<path d="M-12.5 27.3 L-3.5 32.6" stroke="#c62a2a" stroke-width="1.9549999999999998" fill="none" stroke-linecap="round"/>
<path d="M-12.5 27.3 L-9 29.3" stroke="#2a8a3a" stroke-width="1.9549999999999998" fill="none" stroke-linecap="round"/>
<path d="M9.7 10.4 C9 16 10 22 11.1 27.1" stroke="#c03838" stroke-width="0.9199999999999999" fill="none" stroke-linecap="round"/>
<path d="M12.5 10.4 C13 16 12 22 12.2 27.1" stroke="#b83030" stroke-width="0.9199999999999999" fill="none" stroke-linecap="round"/>
<path d="M15.3 11.1 C15 18 14 22 13.2 27.1" stroke="#3a7a4a" stroke-width="0.9199999999999999" fill="none" stroke-linecap="round"/>
<path d="M7 10.4 C4 16 6 22 9.7 27.1" stroke="#c03838" stroke-width="0.69" fill="none" stroke-linecap="round"/>
<path d="M20.8 10.4 C24 14 27 17 29.1 19.4" stroke="#c03030" stroke-width="0.9199999999999999" fill="none" stroke-linecap="round"/>
<path d="M22.5 10.4 C26 13 30 16 33 19" stroke="#c03030" stroke-width="0.9199999999999999" fill="none" stroke-linecap="round"/>
<path d="M16.6 29.8 C20 36 30 40 38.9 39.5 C46 39 45 30 41.6 27.1 C39 25 37 24.5 36.1 24.3" stroke="#c84848" stroke-width="0.8624999999999999" fill="none" stroke-linecap="round"/>
<path d="M11.5 33 L10.8 44" stroke="#333" stroke-width="1.15" fill="none" stroke-linecap="round"/>
<path d="M-1.4 38.1 C4 36 8 33 10 31" stroke="#f0f0f0" stroke-width="0.69" fill="none" stroke-linecap="round"/>
<path d="M29.5 19.5 L37.5 23.5" stroke="#2a2a2a" stroke-width="1.7249999999999999" fill="none" stroke-linecap="round"/>
<path d="M30 21.5 L36 24.8" stroke="#b03030" stroke-width="1.38" fill="none" stroke-linecap="round"/>
<rect x="9.7" y="26.3" width="6.2" height="6.3" fill="#1e1e1e" stroke="none" stroke-width="1" rx="1"/>
<rect x="0" y="0" width="27.7" height="9.7" fill="#a6a6a6" stroke="none" stroke-width="1" rx="0.8"/>
<rect x="0.6" y="0.6" width="6" height="6.2" fill="#d2d2d2" stroke="#909090" stroke-width="0.35" />
<rect x="2.6" y="1.4" width="2" height="1.5" fill="#5a5a5a" stroke="none" stroke-width="1" />
<rect x="0.6" y="7" width="6" height="2.4" fill="#8e8e8e" stroke="none" stroke-width="1" />
<rect x="7.4" y="0.6" width="6" height="6.2" fill="#d2d2d2" stroke="#909090" stroke-width="0.35" />
<rect x="9.4" y="1.4" width="2" height="1.5" fill="#5a5a5a" stroke="none" stroke-width="1" />
<rect x="7.4" y="7" width="6" height="2.4" fill="#8e8e8e" stroke="none" stroke-width="1" />
<rect x="14.2" y="0.6" width="6" height="6.2" fill="#d2d2d2" stroke="#909090" stroke-width="0.35" />
<rect x="16.2" y="1.4" width="2" height="1.5" fill="#5a5a5a" stroke="none" stroke-width="1" />
<rect x="14.2" y="7" width="6" height="2.4" fill="#8e8e8e" stroke="none" stroke-width="1" />
<rect x="21" y="0.6" width="6" height="6.2" fill="#d2d2d2" stroke="#909090" stroke-width="0.35" />
<rect x="23" y="1.4" width="2" height="1.5" fill="#5a5a5a" stroke="none" stroke-width="1" />
<rect x="21" y="7" width="6" height="2.4" fill="#8e8e8e" stroke="none" stroke-width="1" />
</g>
<g transform="translate(333.9 268.4) scale(0.87)">
<path d="M5.1 10.4 C0 16 -8 22 -11.1 27.1" stroke="#2a2a2a" stroke-width="0.9774999999999999" fill="none" stroke-linecap="round"/>
<path d="M-11.1 28.4 L-1.4 38.1" stroke="#f4f4f4" stroke-width="0.69" fill="none" stroke-linecap="round"/>
<path d="M-12.5 27.3 L-3.5 32.6" stroke="#c62a2a" stroke-width="1.9549999999999998" fill="none" stroke-linecap="round"/>
<path d="M-12.5 27.3 L-9 29.3" stroke="#2a8a3a" stroke-width="1.9549999999999998" fill="none" stroke-linecap="round"/>
<path d="M9.7 10.4 C9 16 10 22 11.1 27.1" stroke="#c03838" stroke-width="0.9199999999999999" fill="none" stroke-linecap="round"/>
<path d="M12.5 10.4 C13 16 12 22 12.2 27.1" stroke="#b83030" stroke-width="0.9199999999999999" fill="none" stroke-linecap="round"/>
<path d="M15.3 11.1 C15 18 14 22 13.2 27.1" stroke="#3a7a4a" stroke-width="0.9199999999999999" fill="none" stroke-linecap="round"/>
<path d="M7 10.4 C4 16 6 22 9.7 27.1" stroke="#c03838" stroke-width="0.69" fill="none" stroke-linecap="round"/>
<path d="M20.8 10.4 C24 14 27 17 29.1 19.4" stroke="#c03030" stroke-width="0.9199999999999999" fill="none" stroke-linecap="round"/>
<path d="M22.5 10.4 C26 13 30 16 33 19" stroke="#c03030" stroke-width="0.9199999999999999" fill="none" stroke-linecap="round"/>
<path d="M16.6 29.8 C20 36 30 40 38.9 39.5 C46 39 45 30 41.6 27.1 C39 25 37 24.5 36.1 24.3" stroke="#c84848" stroke-width="0.8624999999999999" fill="none" stroke-linecap="round"/>
<path d="M11.5 33 L10.8 44" stroke="#333" stroke-width="1.15" fill="none" stroke-linecap="round"/>
<path d="M-1.4 38.1 C4 36 8 33 10 31" stroke="#f0f0f0" stroke-width="0.69" fill="none" stroke-linecap="round"/>
<path d="M29.5 19.5 L37.5 23.5" stroke="#2a2a2a" stroke-width="1.7249999999999999" fill="none" stroke-linecap="round"/>
<path d="M30 21.5 L36 24.8" stroke="#b03030" stroke-width="1.38" fill="none" stroke-linecap="round"/>
<rect x="9.7" y="26.3" width="6.2" height="6.3" fill="#1e1e1e" stroke="none" stroke-width="1" rx="1"/>
<rect x="0" y="0" width="27.7" height="9.7" fill="#a6a6a6" stroke="none" stroke-width="1" rx="0.8"/>
<rect x="0.6" y="0.6" width="6" height="6.2" fill="#d2d2d2" stroke="#909090" stroke-width="0.35" />
<rect x="2.6" y="1.4" width="2" height="1.5" fill="#5a5a5a" stroke="none" stroke-width="1" />
<rect x="0.6" y="7" width="6" height="2.4" fill="#8e8e8e" stroke="none" stroke-width="1" />
<rect x="7.4" y="0.6" width="6" height="6.2" fill="#d2d2d2" stroke="#909090" stroke-width="0.35" />
<rect x="9.4" y="1.4" width="2" height="1.5" fill="#5a5a5a" stroke="none" stroke-width="1" />
<rect x="7.4" y="7" width="6" height="2.4" fill="#8e8e8e" stroke="none" stroke-width="1" />
<rect x="14.2" y="0.6" width="6" height="6.2" fill="#d2d2d2" stroke="#909090" stroke-width="0.35" />
<rect x="16.2" y="1.4" width="2" height="1.5" fill="#5a5a5a" stroke="none" stroke-width="1" />
<rect x="14.2" y="7" width="6" height="2.4" fill="#8e8e8e" stroke="none" stroke-width="1" />
<rect x="21" y="0.6" width="6" height="6.2" fill="#d2d2d2" stroke="#909090" stroke-width="0.35" />
<rect x="23" y="1.4" width="2" height="1.5" fill="#5a5a5a" stroke="none" stroke-width="1" />
<rect x="21" y="7" width="6" height="2.4" fill="#8e8e8e" stroke="none" stroke-width="1" />
</g>
<rect x="267.9" y="308.2" width="48.1" height="29.3" fill="#161616" stroke="none" stroke-width="1" rx="2.2"/>
<circle cx="287.1" cy="322.9" r="0.85" fill="#f2edcf"/>
<circle cx="286.85" cy="325.13" r="0.85" fill="#f2edcf"/>
<circle cx="286.11" cy="327.2" r="0.85" fill="#f2edcf"/>
<circle cx="284.93" cy="328.98" r="0.85" fill="#f2edcf"/>
<circle cx="283.4" cy="330.35" r="0.85" fill="#f2edcf"/>
<circle cx="281.62" cy="331.21" r="0.85" fill="#f2edcf"/>
<circle cx="279.7" cy="331.5" r="0.85" fill="#f2edcf"/>
<circle cx="277.78" cy="331.21" r="0.85" fill="#f2edcf"/>
<circle cx="276" cy="330.35" r="0.85" fill="#f2edcf"/>
<circle cx="274.47" cy="328.98" r="0.85" fill="#f2edcf"/>
<circle cx="273.29" cy="327.2" r="0.85" fill="#f2edcf"/>
<circle cx="272.55" cy="325.13" r="0.85" fill="#f2edcf"/>
<circle cx="272.3" cy="322.9" r="0.85" fill="#f2edcf"/>
<circle cx="272.55" cy="320.67" r="0.85" fill="#f2edcf"/>
<circle cx="273.29" cy="318.6" r="0.85" fill="#f2edcf"/>
<circle cx="274.47" cy="316.82" r="0.85" fill="#f2edcf"/>
<circle cx="276" cy="315.45" r="0.85" fill="#f2edcf"/>
<circle cx="277.78" cy="314.59" r="0.85" fill="#f2edcf"/>
<circle cx="279.7" cy="314.3" r="0.85" fill="#f2edcf"/>
<circle cx="281.62" cy="314.59" r="0.85" fill="#f2edcf"/>
<circle cx="283.4" cy="315.45" r="0.85" fill="#f2edcf"/>
<circle cx="284.93" cy="316.82" r="0.85" fill="#f2edcf"/>
<circle cx="286.11" cy="318.6" r="0.85" fill="#f2edcf"/>
<circle cx="286.85" cy="320.67" r="0.85" fill="#f2edcf"/>
<circle cx="282.57" cy="327.41" r="0.85" fill="#f2edcf"/>
<circle cx="283.96" cy="328.92" r="0.85" fill="#f2edcf"/>
<circle cx="285.34" cy="330.42" r="0.85" fill="#f2edcf"/>
<circle cx="286.73" cy="331.93" r="0.85" fill="#f2edcf"/>
<circle cx="291" cy="314.3" r="0.85" fill="#f2edcf"/>
<circle cx="291" cy="316.45" r="0.85" fill="#f2edcf"/>
<circle cx="291" cy="318.6" r="0.85" fill="#f2edcf"/>
<circle cx="291" cy="320.75" r="0.85" fill="#f2edcf"/>
<circle cx="291" cy="322.9" r="0.85" fill="#f2edcf"/>
<circle cx="291" cy="325.05" r="0.85" fill="#f2edcf"/>
<circle cx="291" cy="327.2" r="0.85" fill="#f2edcf"/>
<circle cx="291" cy="329.35" r="0.85" fill="#f2edcf"/>
<circle cx="291" cy="331.5" r="0.85" fill="#f2edcf"/>
<circle cx="292.8" cy="331.5" r="0.85" fill="#f2edcf"/>
<circle cx="294.6" cy="331.5" r="0.85" fill="#f2edcf"/>
<circle cx="296.4" cy="331.5" r="0.85" fill="#f2edcf"/>
<circle cx="302" cy="314.3" r="0.85" fill="#f2edcf"/>
<circle cx="313.4" cy="314.3" r="0.85" fill="#f2edcf"/>
<circle cx="302" cy="316.41" r="0.85" fill="#f2edcf"/>
<circle cx="313.4" cy="316.41" r="0.85" fill="#f2edcf"/>
<circle cx="302" cy="318.51" r="0.85" fill="#f2edcf"/>
<circle cx="313.4" cy="318.51" r="0.85" fill="#f2edcf"/>
<circle cx="302" cy="320.62" r="0.85" fill="#f2edcf"/>
<circle cx="313.4" cy="320.62" r="0.85" fill="#f2edcf"/>
<circle cx="302" cy="322.73" r="0.85" fill="#f2edcf"/>
<circle cx="313.4" cy="322.73" r="0.85" fill="#f2edcf"/>
<circle cx="302" cy="324.83" r="0.85" fill="#f2edcf"/>
<circle cx="313.4" cy="324.83" r="0.85" fill="#f2edcf"/>
<circle cx="302" cy="326.94" r="0.85" fill="#f2edcf"/>
<circle cx="313.4" cy="326.94" r="0.85" fill="#f2edcf"/>
<circle cx="312.64" cy="329.22" r="0.85" fill="#f2edcf"/>
<circle cx="310.55" cy="330.89" r="0.85" fill="#f2edcf"/>
<circle cx="307.7" cy="331.5" r="0.85" fill="#f2edcf"/>
<circle cx="304.85" cy="330.89" r="0.85" fill="#f2edcf"/>
<circle cx="302.76" cy="329.22" r="0.85" fill="#f2edcf"/>
<rect x="328.1" y="307.8" width="46.5" height="27" fill="#101010" stroke="none" stroke-width="1" rx="2.2"/>
<circle cx="345.8" cy="321.4" r="0.75" fill="#a8a69a"/>
<circle cx="345.58" cy="323.42" r="0.75" fill="#a8a69a"/>
<circle cx="344.93" cy="325.3" r="0.75" fill="#a8a69a"/>
<circle cx="343.9" cy="326.92" r="0.75" fill="#a8a69a"/>
<circle cx="342.55" cy="328.15" r="0.75" fill="#a8a69a"/>
<circle cx="340.98" cy="328.93" r="0.75" fill="#a8a69a"/>
<circle cx="339.3" cy="329.2" r="0.75" fill="#a8a69a"/>
<circle cx="337.62" cy="328.93" r="0.75" fill="#a8a69a"/>
<circle cx="336.05" cy="328.15" r="0.75" fill="#a8a69a"/>
<circle cx="334.7" cy="326.92" r="0.75" fill="#a8a69a"/>
<circle cx="333.67" cy="325.3" r="0.75" fill="#a8a69a"/>
<circle cx="333.02" cy="323.42" r="0.75" fill="#a8a69a"/>
<circle cx="332.8" cy="321.4" r="0.75" fill="#a8a69a"/>
<circle cx="333.02" cy="319.38" r="0.75" fill="#a8a69a"/>
<circle cx="333.67" cy="317.5" r="0.75" fill="#a8a69a"/>
<circle cx="334.7" cy="315.88" r="0.75" fill="#a8a69a"/>
<circle cx="336.05" cy="314.65" r="0.75" fill="#a8a69a"/>
<circle cx="337.62" cy="313.87" r="0.75" fill="#a8a69a"/>
<circle cx="339.3" cy="313.6" r="0.75" fill="#a8a69a"/>
<circle cx="340.98" cy="313.87" r="0.75" fill="#a8a69a"/>
<circle cx="342.55" cy="314.65" r="0.75" fill="#a8a69a"/>
<circle cx="343.9" cy="315.88" r="0.75" fill="#a8a69a"/>
<circle cx="344.93" cy="317.5" r="0.75" fill="#a8a69a"/>
<circle cx="345.58" cy="319.38" r="0.75" fill="#a8a69a"/>
<circle cx="341.82" cy="325.5" r="0.75" fill="#a8a69a"/>
<circle cx="343.04" cy="326.86" r="0.75" fill="#a8a69a"/>
<circle cx="344.26" cy="328.22" r="0.75" fill="#a8a69a"/>
<circle cx="345.48" cy="329.59" r="0.75" fill="#a8a69a"/>
<circle cx="350.2" cy="313.6" r="0.75" fill="#a8a69a"/>
<circle cx="350.2" cy="315.55" r="0.75" fill="#a8a69a"/>
<circle cx="350.2" cy="317.5" r="0.75" fill="#a8a69a"/>
<circle cx="350.2" cy="319.45" r="0.75" fill="#a8a69a"/>
<circle cx="350.2" cy="321.4" r="0.75" fill="#a8a69a"/>
<circle cx="350.2" cy="323.35" r="0.75" fill="#a8a69a"/>
<circle cx="350.2" cy="325.3" r="0.75" fill="#a8a69a"/>
<circle cx="350.2" cy="327.25" r="0.75" fill="#a8a69a"/>
<circle cx="350.2" cy="329.2" r="0.75" fill="#a8a69a"/>
<circle cx="352.4" cy="329.2" r="0.75" fill="#a8a69a"/>
<circle cx="354.6" cy="329.2" r="0.75" fill="#a8a69a"/>
<circle cx="356.8" cy="329.2" r="0.75" fill="#a8a69a"/>
<circle cx="359.6" cy="313.6" r="0.75" fill="#a8a69a"/>
<circle cx="370.8" cy="313.6" r="0.75" fill="#a8a69a"/>
<circle cx="359.6" cy="315.45" r="0.75" fill="#a8a69a"/>
<circle cx="370.8" cy="315.45" r="0.75" fill="#a8a69a"/>
<circle cx="359.6" cy="317.31" r="0.75" fill="#a8a69a"/>
<circle cx="370.8" cy="317.31" r="0.75" fill="#a8a69a"/>
<circle cx="359.6" cy="319.16" r="0.75" fill="#a8a69a"/>
<circle cx="370.8" cy="319.16" r="0.75" fill="#a8a69a"/>
<circle cx="359.6" cy="321.01" r="0.75" fill="#a8a69a"/>
<circle cx="370.8" cy="321.01" r="0.75" fill="#a8a69a"/>
<circle cx="359.6" cy="322.87" r="0.75" fill="#a8a69a"/>
<circle cx="370.8" cy="322.87" r="0.75" fill="#a8a69a"/>
<circle cx="359.6" cy="324.72" r="0.75" fill="#a8a69a"/>
<circle cx="370.8" cy="324.72" r="0.75" fill="#a8a69a"/>
<circle cx="370.05" cy="326.96" r="0.75" fill="#a8a69a"/>
<circle cx="368" cy="328.6" r="0.75" fill="#a8a69a"/>
<circle cx="365.2" cy="329.2" r="0.75" fill="#a8a69a"/>
<circle cx="362.4" cy="328.6" r="0.75" fill="#a8a69a"/>
<circle cx="360.35" cy="326.96" r="0.75" fill="#a8a69a"/>
<text x="319.6" y="269.2" font-size="4.15" text-anchor="middle" fill="#e02020" stroke="#e02020" stroke-width="0.14" >After 2 Seconds</text>
<line x1="304" y1="272.2" x2="331.5" y2="272.2" stroke="#e02020" stroke-width="1" stroke-dasharray="1 0.9"/>
<path d="M331 270.5 L334.6 272.2 L331 273.9 Z" fill="#e02020"/>
<path d="M337.65 233.4 L342.52 230.59 L342.52 236.21 Z" fill="#f2ef10"/>
<path d="M341.7 231.35 L344.51 236.22 L338.89 236.22 Z" fill="#35a535"/>
<path d="M341.7 228.09 L344.47 230.1 L343.41 233.36 L339.99 233.36 L338.93 230.1 Z" fill="#e01515"/>
<path d="M326.95 231.3 L322.08 234.11 L322.08 228.49 Z" fill="#a0501e"/>
<path d="M280.6 224.05 L277.79 219.18 L283.41 219.18 Z" fill="#8c3fc0"/>
<path d="M350.8 230.06 L353.94 233.2 L350.8 236.34 L347.66 233.2 Z" fill="#f27c10"/>
<circle cx="359.2" cy="236.9" r="2.52" fill="#2f6fbf"/>
<path d="M359.4 242.96 L360.23 244.96 L362.38 245.13 L360.74 246.54 L361.24 248.64 L359.4 247.51 L357.56 248.64 L358.06 246.54 L356.42 245.13 L358.57 244.96 Z" fill="#f07ad0"/>
<circle cx="346.8" cy="209.9" r="2.52" fill="#9cc6ee"/>
<path d="M346.8 221.5 L365.1 223.7 L383.4 226.7 L407.8 233.4 L426.5 241.7" stroke="#ee2a2a" stroke-width="1.3" fill="none" stroke-linejoin="round" />
<path d="M346.8 218.1 L347.74 220.21 L350.03 220.45 L348.32 221.99 L348.8 224.25 L346.8 223.1 L344.8 224.25 L345.28 221.99 L343.57 220.45 L345.86 220.21 Z" fill="#ee2a2a"/>
<path d="M365.1 220.3 L366.04 222.41 L368.33 222.65 L366.62 224.19 L367.1 226.45 L365.1 225.3 L363.1 226.45 L363.58 224.19 L361.87 222.65 L364.16 222.41 Z" fill="#ee2a2a"/>
<path d="M383.4 223.3 L384.34 225.41 L386.63 225.65 L384.92 227.19 L385.4 229.45 L383.4 228.3 L381.4 229.45 L381.88 227.19 L380.17 225.65 L382.46 225.41 Z" fill="#ee2a2a"/>
<path d="M407.8 230 L408.74 232.11 L411.03 232.35 L409.32 233.89 L409.8 236.15 L407.8 235 L405.8 236.15 L406.28 233.89 L404.57 232.35 L406.86 232.11 Z" fill="#ee2a2a"/>
<path d="M426.5 238.3 L427.44 240.41 L429.73 240.65 L428.02 242.19 L428.5 244.45 L426.5 243.3 L424.5 244.45 L424.98 242.19 L423.27 240.65 L425.56 240.41 Z" fill="#ee2a2a"/>
<rect x="256.5" y="190.7" width="183" height="148" fill="none" stroke="#000" stroke-width="1.3" />
<line x1="256.5" y1="338.7" x2="256.5" y2="341.1" stroke="#000" stroke-width="1" />
<line x1="317.5" y1="338.7" x2="317.5" y2="341.1" stroke="#000" stroke-width="1" />
<line x1="378.5" y1="338.7" x2="378.5" y2="341.1" stroke="#000" stroke-width="1" />
<line x1="439.5" y1="338.7" x2="439.5" y2="341.1" stroke="#000" stroke-width="1" />
<line x1="274.86" y1="338.7" x2="274.86" y2="340.1" stroke="#000" stroke-width="1" />
<line x1="285.6" y1="338.7" x2="285.6" y2="340.1" stroke="#000" stroke-width="1" />
<line x1="293.23" y1="338.7" x2="293.23" y2="340.1" stroke="#000" stroke-width="1" />
<line x1="299.14" y1="338.7" x2="299.14" y2="340.1" stroke="#000" stroke-width="1" />
<line x1="303.97" y1="338.7" x2="303.97" y2="340.1" stroke="#000" stroke-width="1" />
<line x1="308.05" y1="338.7" x2="308.05" y2="340.1" stroke="#000" stroke-width="1" />
<line x1="311.59" y1="338.7" x2="311.59" y2="340.1" stroke="#000" stroke-width="1" />
<line x1="314.71" y1="338.7" x2="314.71" y2="340.1" stroke="#000" stroke-width="1" />
<line x1="335.86" y1="338.7" x2="335.86" y2="340.1" stroke="#000" stroke-width="1" />
<line x1="346.6" y1="338.7" x2="346.6" y2="340.1" stroke="#000" stroke-width="1" />
<line x1="354.23" y1="338.7" x2="354.23" y2="340.1" stroke="#000" stroke-width="1" />
<line x1="360.14" y1="338.7" x2="360.14" y2="340.1" stroke="#000" stroke-width="1" />
<line x1="364.97" y1="338.7" x2="364.97" y2="340.1" stroke="#000" stroke-width="1" />
<line x1="369.05" y1="338.7" x2="369.05" y2="340.1" stroke="#000" stroke-width="1" />
<line x1="372.59" y1="338.7" x2="372.59" y2="340.1" stroke="#000" stroke-width="1" />
<line x1="375.71" y1="338.7" x2="375.71" y2="340.1" stroke="#000" stroke-width="1" />
<line x1="396.86" y1="338.7" x2="396.86" y2="340.1" stroke="#000" stroke-width="1" />
<line x1="407.6" y1="338.7" x2="407.6" y2="340.1" stroke="#000" stroke-width="1" />
<line x1="415.23" y1="338.7" x2="415.23" y2="340.1" stroke="#000" stroke-width="1" />
<line x1="421.14" y1="338.7" x2="421.14" y2="340.1" stroke="#000" stroke-width="1" />
<line x1="425.97" y1="338.7" x2="425.97" y2="340.1" stroke="#000" stroke-width="1" />
<line x1="430.05" y1="338.7" x2="430.05" y2="340.1" stroke="#000" stroke-width="1" />
<line x1="433.59" y1="338.7" x2="433.59" y2="340.1" stroke="#000" stroke-width="1" />
<line x1="436.71" y1="338.7" x2="436.71" y2="340.1" stroke="#000" stroke-width="1" />
<line x1="256.5" y1="338.7" x2="254.1" y2="338.7" stroke="#000" stroke-width="1" />
<line x1="256.5" y1="232.4" x2="254.1" y2="232.4" stroke="#000" stroke-width="1" />
<line x1="256.5" y1="306.7" x2="255.1" y2="306.7" stroke="#000" stroke-width="1" />
<line x1="256.5" y1="287.98" x2="255.1" y2="287.98" stroke="#000" stroke-width="1" />
<line x1="256.5" y1="274.7" x2="255.1" y2="274.7" stroke="#000" stroke-width="1" />
<line x1="256.5" y1="264.4" x2="255.1" y2="264.4" stroke="#000" stroke-width="1" />
<line x1="256.5" y1="255.98" x2="255.1" y2="255.98" stroke="#000" stroke-width="1" />
<line x1="256.5" y1="248.87" x2="255.1" y2="248.87" stroke="#000" stroke-width="1" />
<line x1="256.5" y1="242.7" x2="255.1" y2="242.7" stroke="#000" stroke-width="1" />
<line x1="256.5" y1="237.26" x2="255.1" y2="237.26" stroke="#000" stroke-width="1" />
<line x1="256.5" y1="200.4" x2="255.1" y2="200.4" stroke="#000" stroke-width="1" />
<text x="257.5" y="351.2" font-size="7.8" text-anchor="middle" fill="#111" stroke="#111" stroke-width="0.26" >10<tspan dy="-3.3" font-size="5.2">1</tspan></text>
<text x="318.5" y="351.2" font-size="7.8" text-anchor="middle" fill="#111" stroke="#111" stroke-width="0.26" >10<tspan dy="-3.3" font-size="5.2">2</tspan></text>
<text x="379.5" y="351.2" font-size="7.8" text-anchor="middle" fill="#111" stroke="#111" stroke-width="0.26" >10<tspan dy="-3.3" font-size="5.2">3</tspan></text>
<text x="440.5" y="351.2" font-size="7.8" text-anchor="middle" fill="#111" stroke="#111" stroke-width="0.26" >10<tspan dy="-3.3" font-size="5.2">4</tspan></text>
<text x="254.8" y="235.2" font-size="7.6" text-anchor="end" fill="#111" stroke="#111" stroke-width="0.25" >10</text>
<text x="254.8" y="341.5" font-size="7.6" text-anchor="end" fill="#111" stroke="#111" stroke-width="0.25" >1</text>
<text x="347.9" y="366.8" font-size="9.15" text-anchor="middle" fill="#111" stroke="#111" stroke-width="0.3" >Power density(W kg<tspan dy="-3" font-size="5.6">-1</tspan><tspan dy="3">)</tspan></text>
<text x="244.8" y="257.4" font-size="8.8" text-anchor="middle" fill="#111" stroke="#111" stroke-width="0.29" transform="rotate(-90 244.8 257.4)" >Energy density(Wh kg<tspan dy="-3" font-size="5.5">-1</tspan><tspan dy="3">)</tspan></text>
<text x="233.6" y="197.7" font-size="20" text-anchor="start" fill="#111" stroke="#111" stroke-width="0.67" >d</text>
<line x1="382.4" y1="246.8" x2="397.6" y2="246.8" stroke="#ee2a2a" stroke-width="1.3" />
<path d="M390 243.4 L390.94 245.51 L393.23 245.75 L391.52 247.29 L392 249.55 L390 248.4 L388 249.55 L388.48 247.29 L386.77 245.75 L389.06 245.51 Z" fill="#ee2a2a"/>
<text x="402.4" y="249.5" font-size="7.6" text-anchor="start" fill="#ee2a2a" stroke="#ee2a2a" stroke-width="0.25" >This work</text>
<circle cx="390.5" cy="255.5" r="2.52" fill="#2f6fbf"/>
<text x="402.4" y="258.2" font-size="7.6" text-anchor="start" fill="#111" stroke="#111" stroke-width="0.25" >Ref.29</text>
<path d="M390.5 262.38 L393.31 267.25 L387.69 267.25 Z" fill="#35a535"/>
<text x="402.4" y="267.93" font-size="7.6" text-anchor="start" fill="#111" stroke="#111" stroke-width="0.25" >Ref.30</text>
<path d="M390.5 277.81 L387.69 272.94 L393.31 272.94 Z" fill="#8c3fc0"/>
<text x="402.4" y="277.66" font-size="7.6" text-anchor="start" fill="#111" stroke="#111" stroke-width="0.25" >Ref.41</text>
<path d="M390.5 281.55 L393.64 284.69 L390.5 287.83 L387.36 284.69 Z" fill="#f27c10"/>
<text x="402.4" y="287.39" font-size="7.6" text-anchor="start" fill="#111" stroke="#111" stroke-width="0.25" >Ref.55</text>
<path d="M387.25 294.42 L392.12 291.61 L392.12 297.23 Z" fill="#f2ef10"/>
<text x="402.4" y="297.12" font-size="7.6" text-anchor="start" fill="#111" stroke="#111" stroke-width="0.25" >Ref.56</text>
<path d="M393.75 304.15 L388.88 306.96 L388.88 301.34 Z" fill="#a0501e"/>
<text x="402.4" y="306.85" font-size="7.6" text-anchor="start" fill="#111" stroke="#111" stroke-width="0.25" >Ref.57</text>
<path d="M390.5 310.74 L391.33 312.74 L393.48 312.91 L391.84 314.32 L392.34 316.42 L390.5 315.29 L388.66 316.42 L389.16 314.32 L387.52 312.91 L389.67 312.74 Z" fill="#f07ad0"/>
<text x="402.4" y="316.58" font-size="7.6" text-anchor="start" fill="#111" stroke="#111" stroke-width="0.25" >Ref.58</text>
<circle cx="390.5" cy="323.61" r="2.52" fill="#9cc6ee"/>
<text x="402.4" y="326.31" font-size="7.6" text-anchor="start" fill="#111" stroke="#111" stroke-width="0.25" >Ref.59</text>
<path d="M390.5 330.43 L393.27 332.44 L392.21 335.7 L388.79 335.7 L387.73 332.44 Z" fill="#e01515"/>
<text x="402.4" y="336.04" font-size="7.6" text-anchor="start" fill="#111" stroke="#111" stroke-width="0.25" >Ref.60</text>
<path d="M84.5 503.5 L95.63 415.5 L106.66 503.5 L117.23 415.5 L128.26 503.5 L138.94 415.5 L149.86 503.5 L160.66 415.5 L171.57 503.5 L182.37 415.5 L193.5 503.5" stroke="#2a8ccc" stroke-width="1.2" fill="none" stroke-linejoin="round" />
<rect x="84.5" y="415.5" width="109" height="88" fill="none" stroke="#000" stroke-width="1" />
<line x1="84.5" y1="415.5" x2="82.9" y2="415.5" stroke="#000" stroke-width="0.7" />
<line x1="84.5" y1="433.1" x2="82.9" y2="433.1" stroke="#000" stroke-width="0.7" />
<line x1="84.5" y1="450.7" x2="82.9" y2="450.7" stroke="#000" stroke-width="0.7" />
<line x1="84.5" y1="468.3" x2="82.9" y2="468.3" stroke="#000" stroke-width="0.7" />
<line x1="84.5" y1="485.9" x2="82.9" y2="485.9" stroke="#000" stroke-width="0.7" />
<line x1="84.5" y1="503.5" x2="82.9" y2="503.5" stroke="#000" stroke-width="0.7" />
<line x1="84.5" y1="424.3" x2="83.5" y2="424.3" stroke="#000" stroke-width="0.7" />
<line x1="84.5" y1="441.9" x2="83.5" y2="441.9" stroke="#000" stroke-width="0.7" />
<line x1="84.5" y1="459.5" x2="83.5" y2="459.5" stroke="#000" stroke-width="0.7" />
<line x1="84.5" y1="477.1" x2="83.5" y2="477.1" stroke="#000" stroke-width="0.7" />
<line x1="84.5" y1="494.7" x2="83.5" y2="494.7" stroke="#000" stroke-width="0.7" />
<line x1="84.5" y1="503.5" x2="84.5" y2="505.1" stroke="#000" stroke-width="0.7" />
<line x1="95.63" y1="503.5" x2="95.63" y2="505.1" stroke="#000" stroke-width="0.7" />
<line x1="106.77" y1="503.5" x2="106.77" y2="505.1" stroke="#000" stroke-width="0.7" />
<line x1="117.9" y1="503.5" x2="117.9" y2="505.1" stroke="#000" stroke-width="0.7" />
<line x1="129.04" y1="503.5" x2="129.04" y2="505.1" stroke="#000" stroke-width="0.7" />
<line x1="140.17" y1="503.5" x2="140.17" y2="505.1" stroke="#000" stroke-width="0.7" />
<line x1="151.3" y1="503.5" x2="151.3" y2="505.1" stroke="#000" stroke-width="0.7" />
<line x1="162.44" y1="503.5" x2="162.44" y2="505.1" stroke="#000" stroke-width="0.7" />
<line x1="173.57" y1="503.5" x2="173.57" y2="505.1" stroke="#000" stroke-width="0.7" />
<line x1="184.7" y1="503.5" x2="184.7" y2="505.1" stroke="#000" stroke-width="0.7" />
<line x1="90.07" y1="503.5" x2="90.07" y2="504.5" stroke="#000" stroke-width="0.7" />
<line x1="101.2" y1="503.5" x2="101.2" y2="504.5" stroke="#000" stroke-width="0.7" />
<line x1="112.33" y1="503.5" x2="112.33" y2="504.5" stroke="#000" stroke-width="0.7" />
<line x1="123.47" y1="503.5" x2="123.47" y2="504.5" stroke="#000" stroke-width="0.7" />
<line x1="134.6" y1="503.5" x2="134.6" y2="504.5" stroke="#000" stroke-width="0.7" />
<line x1="145.74" y1="503.5" x2="145.74" y2="504.5" stroke="#000" stroke-width="0.7" />
<line x1="156.87" y1="503.5" x2="156.87" y2="504.5" stroke="#000" stroke-width="0.7" />
<line x1="168" y1="503.5" x2="168" y2="504.5" stroke="#000" stroke-width="0.7" />
<line x1="179.14" y1="503.5" x2="179.14" y2="504.5" stroke="#000" stroke-width="0.7" />
<line x1="190.27" y1="503.5" x2="190.27" y2="504.5" stroke="#000" stroke-width="0.7" />
<text x="81.9" y="417.4" font-size="5.3" text-anchor="end" fill="#111" stroke="#111" stroke-width="0.18" >0.0</text>
<text x="81.9" y="435" font-size="5.3" text-anchor="end" fill="#111" stroke="#111" stroke-width="0.18" >-0.2</text>
<text x="81.9" y="452.6" font-size="5.3" text-anchor="end" fill="#111" stroke="#111" stroke-width="0.18" >-0.4</text>
<text x="81.9" y="470.2" font-size="5.3" text-anchor="end" fill="#111" stroke="#111" stroke-width="0.18" >-0.6</text>
<text x="81.9" y="487.8" font-size="5.3" text-anchor="end" fill="#111" stroke="#111" stroke-width="0.18" >-0.8</text>
<text x="81.9" y="505.4" font-size="5.3" text-anchor="end" fill="#111" stroke="#111" stroke-width="0.18" >-1.0</text>
<text x="84.5" y="510.5" font-size="5" text-anchor="middle" fill="#111" stroke="#111" stroke-width="0.17" >0</text>
<text x="95.63" y="510.5" font-size="5" text-anchor="middle" fill="#111" stroke="#111" stroke-width="0.17" >10</text>
<text x="106.77" y="510.5" font-size="5" text-anchor="middle" fill="#111" stroke="#111" stroke-width="0.17" >20</text>
<text x="117.9" y="510.5" font-size="5" text-anchor="middle" fill="#111" stroke="#111" stroke-width="0.17" >30</text>
<text x="129.04" y="510.5" font-size="5" text-anchor="middle" fill="#111" stroke="#111" stroke-width="0.17" >40</text>
<text x="140.17" y="510.5" font-size="5" text-anchor="middle" fill="#111" stroke="#111" stroke-width="0.17" >50</text>
<text x="151.3" y="510.5" font-size="5" text-anchor="middle" fill="#111" stroke="#111" stroke-width="0.17" >60</text>
<text x="162.44" y="510.5" font-size="5" text-anchor="middle" fill="#111" stroke="#111" stroke-width="0.17" >70</text>
<text x="173.57" y="510.5" font-size="5" text-anchor="middle" fill="#111" stroke="#111" stroke-width="0.17" >80</text>
<text x="184.7" y="510.5" font-size="5" text-anchor="middle" fill="#111" stroke="#111" stroke-width="0.17" >90</text>
<text x="134.3" y="412.4" font-size="5.7" text-anchor="middle" fill="#111" stroke="#111" stroke-width="0.19" >First five cycles</text>
<text x="138.5" y="520.2" font-size="5.8" text-anchor="middle" fill="#111" stroke="#111" stroke-width="0.19" >Time(s)</text>
<text x="66.7" y="456.5" font-size="5.4" text-anchor="middle" fill="#111" stroke="#111" stroke-width="0.18" transform="rotate(-90 66.7 456.5)" >Potential(V)</text>
<path d="M289.5 503.5 L300.77 415.5 L311.69 503.5 L322.13 415.5 L333.64 503.5 L344.08 415.5 L355.36 503.5 L366.16 415.5 L377.07 503.5 L387.52 415.5 L398.91 503.5" stroke="#f27cc6" stroke-width="1.2" fill="none" stroke-linejoin="round" />
<rect x="289.5" y="415.5" width="110" height="88" fill="none" stroke="#000" stroke-width="1" />
<line x1="289.5" y1="415.5" x2="287.9" y2="415.5" stroke="#000" stroke-width="0.7" />
<line x1="289.5" y1="433.1" x2="287.9" y2="433.1" stroke="#000" stroke-width="0.7" />
<line x1="289.5" y1="450.7" x2="287.9" y2="450.7" stroke="#000" stroke-width="0.7" />
<line x1="289.5" y1="468.3" x2="287.9" y2="468.3" stroke="#000" stroke-width="0.7" />
<line x1="289.5" y1="485.9" x2="287.9" y2="485.9" stroke="#000" stroke-width="0.7" />
<line x1="289.5" y1="503.5" x2="287.9" y2="503.5" stroke="#000" stroke-width="0.7" />
<line x1="289.5" y1="424.3" x2="288.5" y2="424.3" stroke="#000" stroke-width="0.7" />
<line x1="289.5" y1="441.9" x2="288.5" y2="441.9" stroke="#000" stroke-width="0.7" />
<line x1="289.5" y1="459.5" x2="288.5" y2="459.5" stroke="#000" stroke-width="0.7" />
<line x1="289.5" y1="477.1" x2="288.5" y2="477.1" stroke="#000" stroke-width="0.7" />
<line x1="289.5" y1="494.7" x2="288.5" y2="494.7" stroke="#000" stroke-width="0.7" />
<line x1="289.5" y1="503.5" x2="289.5" y2="505.1" stroke="#000" stroke-width="0.7" />
<line x1="301.37" y1="503.5" x2="301.37" y2="505.1" stroke="#000" stroke-width="0.7" />
<line x1="313.23" y1="503.5" x2="313.23" y2="505.1" stroke="#000" stroke-width="0.7" />
<line x1="325.1" y1="503.5" x2="325.1" y2="505.1" stroke="#000" stroke-width="0.7" />
<line x1="336.96" y1="503.5" x2="336.96" y2="505.1" stroke="#000" stroke-width="0.7" />
<line x1="348.83" y1="503.5" x2="348.83" y2="505.1" stroke="#000" stroke-width="0.7" />
<line x1="360.7" y1="503.5" x2="360.7" y2="505.1" stroke="#000" stroke-width="0.7" />
<line x1="372.56" y1="503.5" x2="372.56" y2="505.1" stroke="#000" stroke-width="0.7" />
<line x1="384.43" y1="503.5" x2="384.43" y2="505.1" stroke="#000" stroke-width="0.7" />
<line x1="396.3" y1="503.5" x2="396.3" y2="505.1" stroke="#000" stroke-width="0.7" />
<line x1="295.43" y1="503.5" x2="295.43" y2="504.5" stroke="#000" stroke-width="0.7" />
<line x1="307.3" y1="503.5" x2="307.3" y2="504.5" stroke="#000" stroke-width="0.7" />
<line x1="319.17" y1="503.5" x2="319.17" y2="504.5" stroke="#000" stroke-width="0.7" />
<line x1="331.03" y1="503.5" x2="331.03" y2="504.5" stroke="#000" stroke-width="0.7" />
<line x1="342.9" y1="503.5" x2="342.9" y2="504.5" stroke="#000" stroke-width="0.7" />
<line x1="354.76" y1="503.5" x2="354.76" y2="504.5" stroke="#000" stroke-width="0.7" />
<line x1="366.63" y1="503.5" x2="366.63" y2="504.5" stroke="#000" stroke-width="0.7" />
<line x1="378.5" y1="503.5" x2="378.5" y2="504.5" stroke="#000" stroke-width="0.7" />
<line x1="390.36" y1="503.5" x2="390.36" y2="504.5" stroke="#000" stroke-width="0.7" />
<text x="286.9" y="417.4" font-size="5.3" text-anchor="end" fill="#111" stroke="#111" stroke-width="0.18" >0.0</text>
<text x="286.9" y="435" font-size="5.3" text-anchor="end" fill="#111" stroke="#111" stroke-width="0.18" >-0.2</text>
<text x="286.9" y="452.6" font-size="5.3" text-anchor="end" fill="#111" stroke="#111" stroke-width="0.18" >-0.4</text>
<text x="286.9" y="470.2" font-size="5.3" text-anchor="end" fill="#111" stroke="#111" stroke-width="0.18" >-0.6</text>
<text x="286.9" y="487.8" font-size="5.3" text-anchor="end" fill="#111" stroke="#111" stroke-width="0.18" >-0.8</text>
<text x="286.9" y="505.4" font-size="5.3" text-anchor="end" fill="#111" stroke="#111" stroke-width="0.18" >-1.0</text>
<text x="289.5" y="510.5" font-size="5" text-anchor="middle" fill="#111" stroke="#111" stroke-width="0.17" >0</text>
<text x="301.37" y="510.5" font-size="5" text-anchor="middle" fill="#111" stroke="#111" stroke-width="0.17" >10</text>
<text x="313.23" y="510.5" font-size="5" text-anchor="middle" fill="#111" stroke="#111" stroke-width="0.17" >20</text>
<text x="325.1" y="510.5" font-size="5" text-anchor="middle" fill="#111" stroke="#111" stroke-width="0.17" >30</text>
<text x="336.96" y="510.5" font-size="5" text-anchor="middle" fill="#111" stroke="#111" stroke-width="0.17" >40</text>
<text x="348.83" y="510.5" font-size="5" text-anchor="middle" fill="#111" stroke="#111" stroke-width="0.17" >50</text>
<text x="360.7" y="510.5" font-size="5" text-anchor="middle" fill="#111" stroke="#111" stroke-width="0.17" >60</text>
<text x="372.56" y="510.5" font-size="5" text-anchor="middle" fill="#111" stroke="#111" stroke-width="0.17" >70</text>
<text x="384.43" y="510.5" font-size="5" text-anchor="middle" fill="#111" stroke="#111" stroke-width="0.17" >80</text>
<text x="396.3" y="510.5" font-size="5" text-anchor="middle" fill="#111" stroke="#111" stroke-width="0.17" >90</text>
<text x="343.1" y="412.4" font-size="5.7" text-anchor="middle" fill="#111" stroke="#111" stroke-width="0.19" >Last five cycles</text>
<text x="344" y="520.2" font-size="5.8" text-anchor="middle" fill="#111" stroke="#111" stroke-width="0.19" >Time(s)</text>
<text x="271.7" y="456.5" font-size="5.4" text-anchor="middle" fill="#111" stroke="#111" stroke-width="0.18" transform="rotate(-90 271.7 456.5)" >Potential(V)</text>
<circle cx="39.3" cy="386.8" r="3.65" fill="url(#sphR)"/>
<circle cx="47.32" cy="386.8" r="3.65" fill="url(#sphR)"/>
<circle cx="55.34" cy="386.8" r="3.65" fill="url(#sphR)"/>
<circle cx="63.37" cy="386.8" r="3.65" fill="url(#sphR)"/>
<circle cx="71.39" cy="386.8" r="3.65" fill="url(#sphR)"/>
<circle cx="79.41" cy="386.8" r="3.65" fill="url(#sphR)"/>
<circle cx="87.43" cy="386.8" r="3.65" fill="url(#sphR)"/>
<circle cx="95.45" cy="386.8" r="3.65" fill="url(#sphR)"/>
<circle cx="103.48" cy="386.8" r="3.65" fill="url(#sphR)"/>
<circle cx="111.5" cy="386.8" r="3.65" fill="url(#sphR)"/>
<circle cx="119.52" cy="386.8" r="3.65" fill="url(#sphR)"/>
<circle cx="127.54" cy="386.8" r="3.65" fill="url(#sphR)"/>
<circle cx="135.56" cy="386.8" r="3.65" fill="url(#sphR)"/>
<circle cx="143.59" cy="386.8" r="3.65" fill="url(#sphR)"/>
<circle cx="151.61" cy="386.8" r="3.65" fill="url(#sphR)"/>
<circle cx="159.63" cy="386.8" r="3.65" fill="url(#sphR)"/>
<circle cx="167.65" cy="386.8" r="3.65" fill="url(#sphR)"/>
<circle cx="175.67" cy="386.8" r="3.65" fill="url(#sphR)"/>
<circle cx="183.7" cy="386.8" r="3.65" fill="url(#sphR)"/>
<circle cx="191.72" cy="386.8" r="3.65" fill="url(#sphR)"/>
<circle cx="199.74" cy="386.8" r="3.65" fill="url(#sphR)"/>
<circle cx="207.76" cy="386.8" r="3.65" fill="url(#sphR)"/>
<circle cx="215.78" cy="386.8" r="3.65" fill="url(#sphR)"/>
<circle cx="223.81" cy="386.8" r="3.65" fill="url(#sphR)"/>
<circle cx="231.83" cy="386.8" r="3.65" fill="url(#sphR)"/>
<circle cx="239.85" cy="386.8" r="3.65" fill="url(#sphR)"/>
<circle cx="247.87" cy="386.8" r="3.65" fill="url(#sphR)"/>
<circle cx="255.89" cy="386.8" r="3.65" fill="url(#sphR)"/>
<circle cx="263.92" cy="386.8" r="3.65" fill="url(#sphR)"/>
<circle cx="271.94" cy="386.8" r="3.65" fill="url(#sphR)"/>
<circle cx="279.96" cy="386.8" r="3.65" fill="url(#sphR)"/>
<circle cx="287.98" cy="386.8" r="3.65" fill="url(#sphR)"/>
<circle cx="296" cy="386.8" r="3.65" fill="url(#sphR)"/>
<circle cx="304.03" cy="386.8" r="3.65" fill="url(#sphR)"/>
<circle cx="312.05" cy="386.8" r="3.65" fill="url(#sphR)"/>
<circle cx="320.07" cy="386.8" r="3.65" fill="url(#sphR)"/>
<circle cx="328.09" cy="386.8" r="3.65" fill="url(#sphR)"/>
<circle cx="336.11" cy="386.8" r="3.65" fill="url(#sphR)"/>
<circle cx="344.14" cy="386.8" r="3.65" fill="url(#sphR)"/>
<circle cx="352.16" cy="386.8" r="3.65" fill="url(#sphR)"/>
<circle cx="360.18" cy="386.8" r="3.65" fill="url(#sphR)"/>
<circle cx="368.2" cy="386.8" r="3.65" fill="url(#sphR)"/>
<circle cx="376.22" cy="386.8" r="3.65" fill="url(#sphR)"/>
<circle cx="384.25" cy="386.8" r="3.65" fill="url(#sphR)"/>
<circle cx="392.27" cy="386.8" r="3.65" fill="url(#sphR)"/>
<circle cx="400.29" cy="386.8" r="3.65" fill="url(#sphR)"/>
<circle cx="408.31" cy="386.8" r="3.65" fill="url(#sphR)"/>
<circle cx="416.33" cy="386.8" r="3.65" fill="url(#sphR)"/>
<circle cx="424.36" cy="386.8" r="3.65" fill="url(#sphR)"/>
<circle cx="432.38" cy="386.8" r="3.65" fill="url(#sphR)"/>
<circle cx="440.4" cy="386.8" r="3.65" fill="url(#sphR)"/>
<circle cx="39.3" cy="398.33" r="3.65" fill="url(#sphB)"/>
<circle cx="47.32" cy="399.7" r="3.65" fill="url(#sphB)"/>
<circle cx="55.34" cy="401.7" r="3.65" fill="url(#sphB)"/>
<circle cx="63.37" cy="402.07" r="3.65" fill="url(#sphB)"/>
<circle cx="71.39" cy="402.19" r="3.65" fill="url(#sphB)"/>
<circle cx="79.41" cy="402.32" r="3.65" fill="url(#sphB)"/>
<circle cx="87.43" cy="402.44" r="3.65" fill="url(#sphB)"/>
<circle cx="95.45" cy="402.57" r="3.65" fill="url(#sphB)"/>
<circle cx="103.48" cy="402.69" r="3.65" fill="url(#sphB)"/>
<circle cx="111.5" cy="402.82" r="3.65" fill="url(#sphB)"/>
<circle cx="119.52" cy="402.94" r="3.65" fill="url(#sphB)"/>
<circle cx="127.54" cy="403.01" r="3.65" fill="url(#sphB)"/>
<circle cx="135.56" cy="403.07" r="3.65" fill="url(#sphB)"/>
<circle cx="143.59" cy="403.13" r="3.65" fill="url(#sphB)"/>
<circle cx="151.61" cy="403.19" r="3.65" fill="url(#sphB)"/>
<circle cx="159.63" cy="403.25" r="3.65" fill="url(#sphB)"/>
<circle cx="167.65" cy="403.32" r="3.65" fill="url(#sphB)"/>
<circle cx="175.67" cy="403.38" r="3.65" fill="url(#sphB)"/>
<circle cx="183.7" cy="403.44" r="3.65" fill="url(#sphB)"/>
<circle cx="191.72" cy="403.5" r="3.65" fill="url(#sphB)"/>
<circle cx="199.74" cy="403.57" r="3.65" fill="url(#sphB)"/>
<circle cx="207.76" cy="403.6" r="3.65" fill="url(#sphB)"/>
<circle cx="215.78" cy="403.62" r="3.65" fill="url(#sphB)"/>
<circle cx="223.81" cy="403.65" r="3.65" fill="url(#sphB)"/>
<circle cx="231.83" cy="403.68" r="3.65" fill="url(#sphB)"/>
<circle cx="239.85" cy="403.71" r="3.65" fill="url(#sphB)"/>
<circle cx="247.87" cy="403.74" r="3.65" fill="url(#sphB)"/>
<circle cx="255.89" cy="403.77" r="3.65" fill="url(#sphB)"/>
<circle cx="263.92" cy="403.8" r="3.65" fill="url(#sphB)"/>
<circle cx="271.94" cy="403.83" r="3.65" fill="url(#sphB)"/>
<circle cx="279.96" cy="403.86" r="3.65" fill="url(#sphB)"/>
<circle cx="287.98" cy="403.89" r="3.65" fill="url(#sphB)"/>
<circle cx="296" cy="403.92" r="3.65" fill="url(#sphB)"/>
<circle cx="304.03" cy="403.94" r="3.65" fill="url(#sphB)"/>
<circle cx="312.05" cy="403.97" r="3.65" fill="url(#sphB)"/>
<circle cx="320.07" cy="404" r="3.65" fill="url(#sphB)"/>
<circle cx="328.09" cy="404.03" r="3.65" fill="url(#sphB)"/>
<circle cx="336.11" cy="404.06" r="3.65" fill="url(#sphB)"/>
<circle cx="344.14" cy="404.09" r="3.65" fill="url(#sphB)"/>
<circle cx="352.16" cy="404.12" r="3.65" fill="url(#sphB)"/>
<circle cx="360.18" cy="404.15" r="3.65" fill="url(#sphB)"/>
<circle cx="368.2" cy="404.18" r="3.65" fill="url(#sphB)"/>
<circle cx="376.22" cy="404.21" r="3.65" fill="url(#sphB)"/>
<circle cx="384.25" cy="404.24" r="3.65" fill="url(#sphB)"/>
<circle cx="392.27" cy="404.26" r="3.65" fill="url(#sphB)"/>
<circle cx="400.29" cy="404.29" r="3.65" fill="url(#sphB)"/>
<circle cx="408.31" cy="404.32" r="3.65" fill="url(#sphB)"/>
<circle cx="416.33" cy="404.35" r="3.65" fill="url(#sphB)"/>
<circle cx="424.36" cy="404.38" r="3.65" fill="url(#sphB)"/>
<circle cx="432.38" cy="404.41" r="3.65" fill="url(#sphB)"/>
<circle cx="440.4" cy="404.44" r="3.65" fill="url(#sphB)"/>
<line x1="39.3" y1="373.4" x2="440.4" y2="373.4" stroke="#000" stroke-width="1.3" />
<line x1="38.7" y1="523" x2="441" y2="523" stroke="#000" stroke-width="1.6" />
<line x1="39.3" y1="373.4" x2="39.3" y2="523" stroke="#5b9bd5" stroke-width="1.4" />
<line x1="440.4" y1="373.4" x2="440.4" y2="523" stroke="#f04545" stroke-width="1.4" />
<line x1="39.3" y1="523" x2="36.7" y2="523" stroke="#5b9bd5" stroke-width="1.1" />
<line x1="39.3" y1="498.07" x2="36.7" y2="498.07" stroke="#5b9bd5" stroke-width="1.1" />
<line x1="39.3" y1="473.13" x2="36.7" y2="473.13" stroke="#5b9bd5" stroke-width="1.1" />
<line x1="39.3" y1="448.2" x2="36.7" y2="448.2" stroke="#5b9bd5" stroke-width="1.1" />
<line x1="39.3" y1="423.26" x2="36.7" y2="423.26" stroke="#5b9bd5" stroke-width="1.1" />
<line x1="39.3" y1="398.33" x2="36.7" y2="398.33" stroke="#5b9bd5" stroke-width="1.1" />
<line x1="39.3" y1="373.4" x2="36.7" y2="373.4" stroke="#5b9bd5" stroke-width="1.1" />
<line x1="39.3" y1="510.53" x2="37.8" y2="510.53" stroke="#5b9bd5" stroke-width="1.1" />
<line x1="39.3" y1="485.6" x2="37.8" y2="485.6" stroke="#5b9bd5" stroke-width="1.1" />
<line x1="39.3" y1="460.67" x2="37.8" y2="460.67" stroke="#5b9bd5" stroke-width="1.1" />
<line x1="39.3" y1="435.73" x2="37.8" y2="435.73" stroke="#5b9bd5" stroke-width="1.1" />
<line x1="39.3" y1="410.8" x2="37.8" y2="410.8" stroke="#5b9bd5" stroke-width="1.1" />
<line x1="39.3" y1="385.86" x2="37.8" y2="385.86" stroke="#5b9bd5" stroke-width="1.1" />
<line x1="440.4" y1="522.6" x2="443" y2="522.6" stroke="#f04545" stroke-width="1.1" />
<line x1="440.4" y1="495.34" x2="443" y2="495.34" stroke="#f04545" stroke-width="1.1" />
<line x1="440.4" y1="468.08" x2="443" y2="468.08" stroke="#f04545" stroke-width="1.1" />
<line x1="440.4" y1="440.82" x2="443" y2="440.82" stroke="#f04545" stroke-width="1.1" />
<line x1="440.4" y1="413.56" x2="443" y2="413.56" stroke="#f04545" stroke-width="1.1" />
<line x1="440.4" y1="386.3" x2="443" y2="386.3" stroke="#f04545" stroke-width="1.1" />
<line x1="440.4" y1="508.97" x2="441.9" y2="508.97" stroke="#f04545" stroke-width="1.1" />
<line x1="440.4" y1="481.71" x2="441.9" y2="481.71" stroke="#f04545" stroke-width="1.1" />
<line x1="440.4" y1="454.45" x2="441.9" y2="454.45" stroke="#f04545" stroke-width="1.1" />
<line x1="440.4" y1="427.19" x2="441.9" y2="427.19" stroke="#f04545" stroke-width="1.1" />
<line x1="440.4" y1="399.93" x2="441.9" y2="399.93" stroke="#f04545" stroke-width="1.1" />
<line x1="440.4" y1="372.67" x2="441.9" y2="372.67" stroke="#f04545" stroke-width="1.1" />
<line x1="39.3" y1="523" x2="39.3" y2="525.6" stroke="#000" stroke-width="1" />
<line x1="119.52" y1="523" x2="119.52" y2="525.6" stroke="#000" stroke-width="1" />
<line x1="199.74" y1="523" x2="199.74" y2="525.6" stroke="#000" stroke-width="1" />
<line x1="279.96" y1="523" x2="279.96" y2="525.6" stroke="#000" stroke-width="1" />
<line x1="360.18" y1="523" x2="360.18" y2="525.6" stroke="#000" stroke-width="1" />
<line x1="440.4" y1="523" x2="440.4" y2="525.6" stroke="#000" stroke-width="1" />
<line x1="79.41" y1="523" x2="79.41" y2="524.5" stroke="#000" stroke-width="1" />
<line x1="159.63" y1="523" x2="159.63" y2="524.5" stroke="#000" stroke-width="1" />
<line x1="239.85" y1="523" x2="239.85" y2="524.5" stroke="#000" stroke-width="1" />
<line x1="320.07" y1="523" x2="320.07" y2="524.5" stroke="#000" stroke-width="1" />
<line x1="400.29" y1="523" x2="400.29" y2="524.5" stroke="#000" stroke-width="1" />
<text x="32.1" y="525.9" font-size="8.1" font-weight="normal" text-anchor="end" fill="#5b9bd5" stroke="#5b9bd5" stroke-width="0.16" >0</text>
<text x="32.1" y="500.97" font-size="8.1" font-weight="normal" text-anchor="end" fill="#5b9bd5" stroke="#5b9bd5" stroke-width="0.16" >20</text>
<text x="32.1" y="476.03" font-size="8.1" font-weight="normal" text-anchor="end" fill="#5b9bd5" stroke="#5b9bd5" stroke-width="0.16" >40</text>
<text x="32.1" y="451.1" font-size="8.1" font-weight="normal" text-anchor="end" fill="#5b9bd5" stroke="#5b9bd5" stroke-width="0.16" >60</text>
<text x="32.1" y="426.16" font-size="8.1" font-weight="normal" text-anchor="end" fill="#5b9bd5" stroke="#5b9bd5" stroke-width="0.16" >80</text>
<text x="32.1" y="401.23" font-size="8.1" font-weight="normal" text-anchor="end" fill="#5b9bd5" stroke="#5b9bd5" stroke-width="0.16" >100</text>
<text x="32.1" y="376.3" font-size="8.1" font-weight="normal" text-anchor="end" fill="#5b9bd5" stroke="#5b9bd5" stroke-width="0.16" >120</text>
<text x="444.8" y="525.5" font-size="8.5" font-weight="normal" text-anchor="start" fill="#f05050" stroke="#f05050" stroke-width="0.17" >0</text>
<text x="444.8" y="498.24" font-size="8.5" font-weight="normal" text-anchor="start" fill="#f05050" stroke="#f05050" stroke-width="0.17" >20</text>
<text x="444.8" y="470.98" font-size="8.5" font-weight="normal" text-anchor="start" fill="#f05050" stroke="#f05050" stroke-width="0.17" >40</text>
<text x="444.8" y="443.72" font-size="8.5" font-weight="normal" text-anchor="start" fill="#f05050" stroke="#f05050" stroke-width="0.17" >60</text>
<text x="444.8" y="416.46" font-size="8.5" font-weight="normal" text-anchor="start" fill="#f05050" stroke="#f05050" stroke-width="0.17" >80</text>
<text x="444.8" y="389.2" font-size="8.5" font-weight="normal" text-anchor="start" fill="#f05050" stroke="#f05050" stroke-width="0.17" >100</text>
<text x="39.3" y="533.2" font-size="8.9" text-anchor="middle" fill="#111" stroke="#111" stroke-width="0.3" >0</text>
<text x="119.52" y="533.2" font-size="8.9" text-anchor="middle" fill="#111" stroke="#111" stroke-width="0.3" >2000</text>
<text x="199.74" y="533.2" font-size="8.9" text-anchor="middle" fill="#111" stroke="#111" stroke-width="0.3" >4000</text>
<text x="279.96" y="533.2" font-size="8.9" text-anchor="middle" fill="#111" stroke="#111" stroke-width="0.3" >6000</text>
<text x="360.18" y="533.2" font-size="8.9" text-anchor="middle" fill="#111" stroke="#111" stroke-width="0.3" >8000</text>
<text x="437.4" y="533.2" font-size="8.9" text-anchor="middle" fill="#111" stroke="#111" stroke-width="0.3" >10,000</text>
<text x="239.3" y="544.3" font-size="10.2" text-anchor="middle" fill="#111" stroke="#111" stroke-width="0.34" >Cycle number</text>
<text x="15.3" y="446.4" font-size="10.95" font-weight="normal" text-anchor="middle" fill="#5b9bd5" stroke="#5b9bd5" stroke-width="0.22" transform="rotate(-90 15.3 446.4)" >Capacitance retention(%)</text>
<text x="469.3" y="444.9" font-size="11" font-weight="normal" text-anchor="middle" fill="#ee4a4a" stroke="#ee4a4a" stroke-width="0.22" transform="rotate(-90 469.3 444.9)" >Coulombic efficiency(%)</text>
<text x="438.3" y="383.5" font-size="10" font-weight="normal" text-anchor="end" fill="#f06464" stroke="#f06464" stroke-width="0.2" >99.89%</text>
<text x="438.3" y="417.1" font-size="10" font-weight="normal" text-anchor="end" fill="#5b9bd5" stroke="#5b9bd5" stroke-width="0.2" >94.98%</text>
<text x="8" y="373.9" font-size="20" text-anchor="start" fill="#111" stroke="#111" stroke-width="0.67" >e</text>
</svg>
</body></html>
